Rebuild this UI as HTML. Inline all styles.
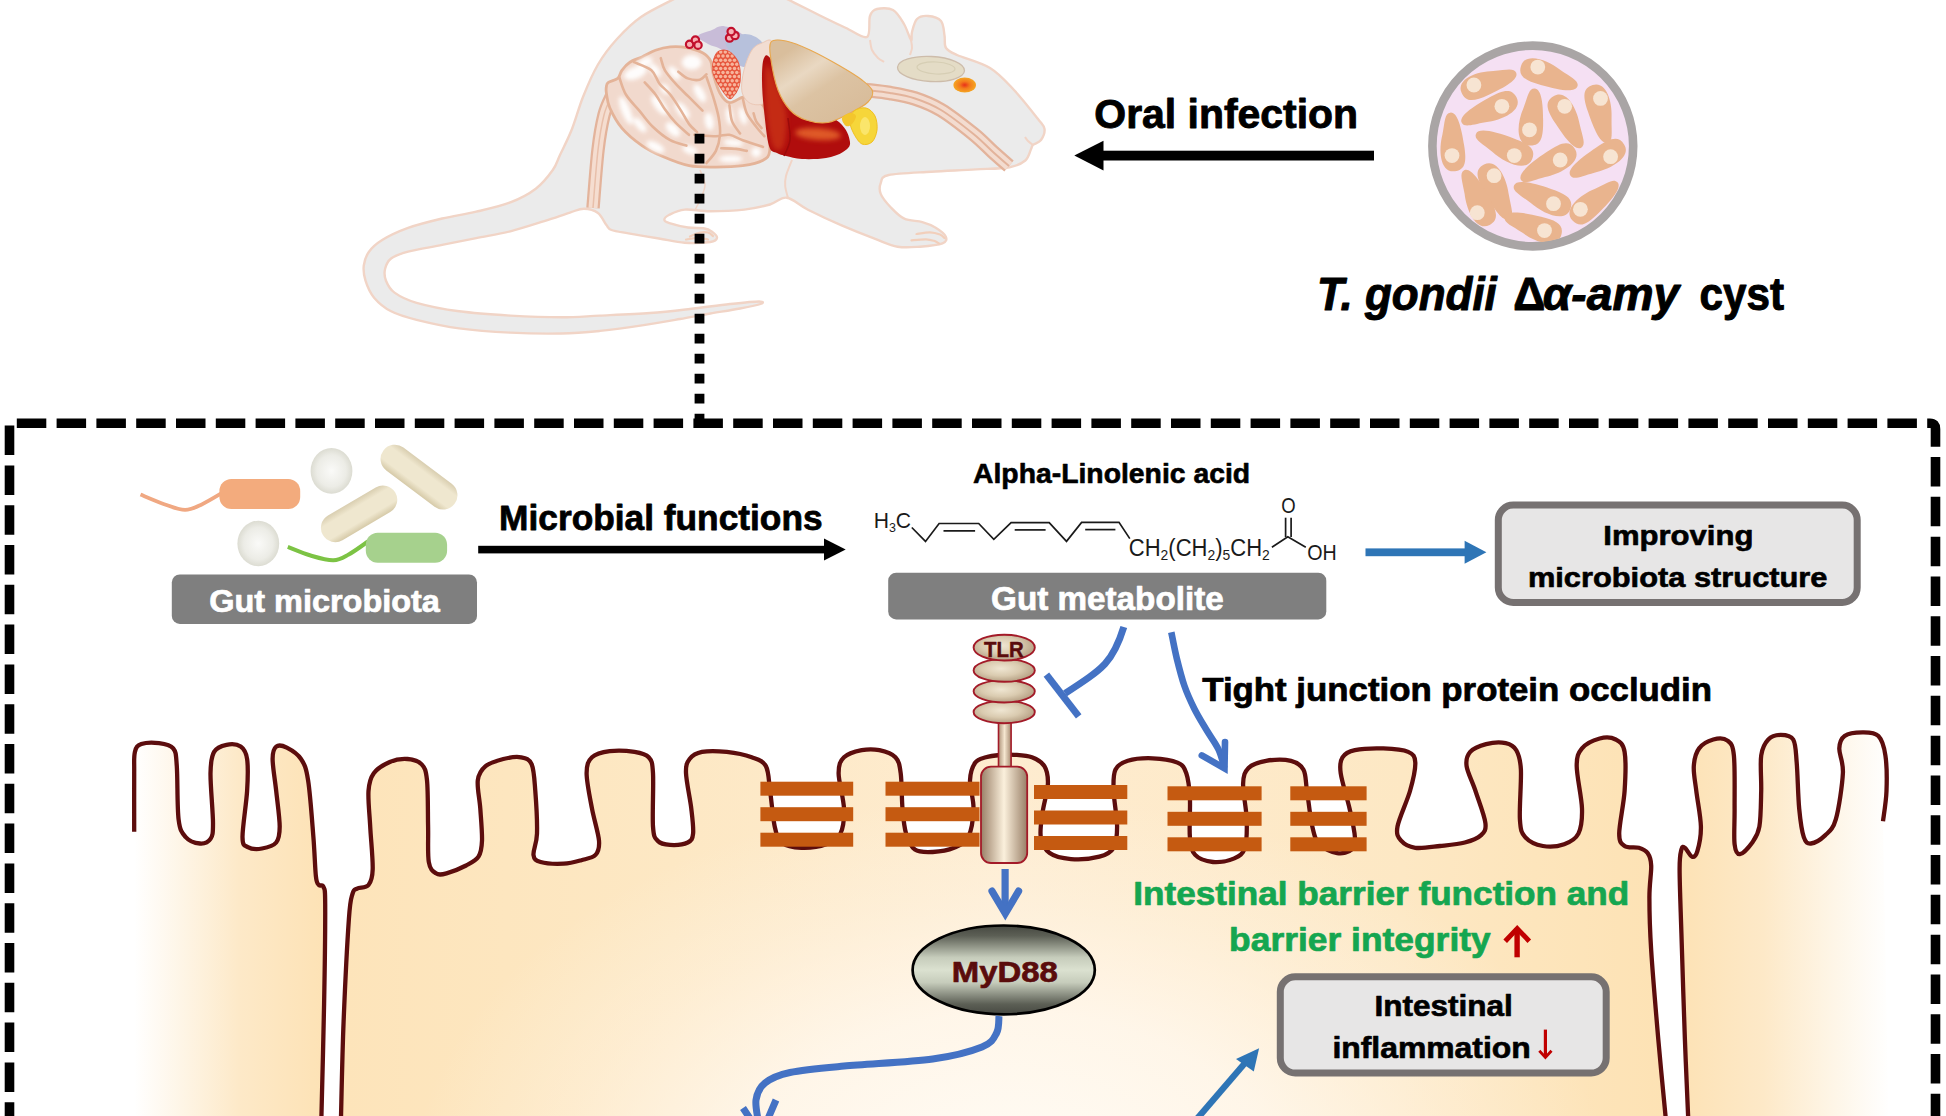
<!DOCTYPE html>
<html><head><meta charset="utf-8"><title>Graphical abstract</title>
<style>
html,body{margin:0;padding:0;background:#fff;}
body{width:1946px;height:1116px;overflow:hidden;font-family:"Liberation Sans",sans-serif;}
svg{display:block;}
svg text{font-family:"Liberation Sans",sans-serif;}
</style></head><body>
<svg width="1946" height="1116" viewBox="0 0 1946 1116">
<defs>
<linearGradient id="gL" x1="134" x2="325" y1="0" y2="0" gradientUnits="userSpaceOnUse">
 <stop offset="0" stop-color="#ffffff"/><stop offset="0.25" stop-color="#fef5e6"/><stop offset="0.55" stop-color="#fde9c8"/><stop offset="1" stop-color="#fde2b5"/></linearGradient>
<linearGradient id="gR" x1="1680" x2="1890" y1="0" y2="0" gradientUnits="userSpaceOnUse">
 <stop offset="0" stop-color="#fde2b5"/><stop offset="0.4" stop-color="#fde9c8"/><stop offset="0.72" stop-color="#fef5e6"/><stop offset="1" stop-color="#ffffff"/></linearGradient>
<linearGradient id="gM" x1="340" x2="1668" y1="0" y2="0" gradientUnits="userSpaceOnUse">
 <stop offset="0" stop-color="#fde4ba"/><stop offset="0.25" stop-color="#fde8c4"/><stop offset="0.5" stop-color="#feecd0"/><stop offset="0.8" stop-color="#fde8c4"/><stop offset="1" stop-color="#fde2b4"/></linearGradient>
<radialGradient id="gMr" cx="1010" cy="1190" r="600" gradientUnits="userSpaceOnUse" gradientTransform="translate(1010 1190) scale(1 0.66) translate(-1010 -1190)">
 <stop offset="0" stop-color="#fffcf6" stop-opacity="1"/><stop offset="0.45" stop-color="#fff8ee" stop-opacity="0.85"/><stop offset="0.75" stop-color="#fff6ea" stop-opacity="0.35"/><stop offset="1" stop-color="#fff6ea" stop-opacity="0"/></radialGradient>
<linearGradient id="gMy" x1="0" x2="0" y1="925" y2="1015" gradientUnits="userSpaceOnUse">
 <stop offset="0" stop-color="#454740"/><stop offset="0.12" stop-color="#5c5f55"/><stop offset="0.36" stop-color="#c6ccbb"/><stop offset="0.5" stop-color="#dbe1d0"/><stop offset="0.64" stop-color="#c6ccbb"/><stop offset="0.88" stop-color="#5c5f55"/><stop offset="1" stop-color="#454740"/></linearGradient>
<linearGradient id="gTm" x1="981" x2="1027" y1="0" y2="0" gradientUnits="userSpaceOnUse">
 <stop offset="0" stop-color="#9a8068"/><stop offset="0.5" stop-color="#fbf0dc"/><stop offset="1" stop-color="#9a8068"/></linearGradient>
<linearGradient id="gSt" x1="998" x2="1011" y1="0" y2="0" gradientUnits="userSpaceOnUse">
 <stop offset="0" stop-color="#a88c72"/><stop offset="0.5" stop-color="#f5e6d0"/><stop offset="1" stop-color="#a88c72"/></linearGradient>
<radialGradient id="gEl" cx="0.45" cy="0.42" r="0.58">
 <stop offset="0" stop-color="#efe6d2"/><stop offset="0.55" stop-color="#dacbb0"/><stop offset="1" stop-color="#b5a084"/></radialGradient>
<radialGradient id="gCo" cx="0.5" cy="0.5" r="0.5">
 <stop offset="0" stop-color="#fafaf8"/><stop offset="0.7" stop-color="#ecece6"/><stop offset="1" stop-color="#dcdcd2"/></radialGradient>
<linearGradient id="gRod" x1="0" x2="0" y1="0" y2="1">
 <stop offset="0" stop-color="#d9ceb0"/><stop offset="0.25" stop-color="#efe7cf"/><stop offset="0.75" stop-color="#efe7cf"/><stop offset="1" stop-color="#d6caa8"/></linearGradient>
<radialGradient id="gEye" cx="0.5" cy="0.5" r="0.5">
 <stop offset="0" stop-color="#e8301a"/><stop offset="0.45" stop-color="#f37a1c"/><stop offset="1" stop-color="#f5a623"/></radialGradient>
<linearGradient id="gSto" x1="790" y1="50" x2="840" y2="125" gradientUnits="userSpaceOnUse">
 <stop offset="0" stop-color="#d9be9c"/><stop offset="0.3" stop-color="#e9d8c2"/><stop offset="0.55" stop-color="#dcc3a3"/><stop offset="1" stop-color="#d8bc9a"/></linearGradient>
<radialGradient id="gLiv" cx="815" cy="133" r="40" gradientUnits="userSpaceOnUse" gradientTransform="translate(815 133) scale(1 0.35) translate(-815 -133)">
 <stop offset="0" stop-color="#e0602a"/><stop offset="1" stop-color="#b00d0d"/></radialGradient>
</defs>
<rect width="1946" height="1116" fill="#fff"/>
<path d="M702.0,-16.0 C694.7,-12.0 686.2,-7.5 676.0,-2.0 C665.8,3.5 650.8,10.2 641.0,17.0 C631.2,23.8 624.2,31.1 617.0,39.0 C609.8,46.9 603.7,54.8 598.0,64.5 C592.3,74.2 587.3,86.2 583.0,97.0 C578.7,107.8 575.8,119.3 572.0,129.0 C568.2,138.7 563.2,148.2 560.0,155.0 C556.8,161.8 556.8,164.4 552.8,170.0 C548.8,175.6 542.9,183.3 535.8,188.7 C528.7,194.1 520.2,198.6 510.3,202.4 C500.4,206.2 487.6,209.0 476.2,211.7 C464.8,214.4 453.5,215.8 442.2,218.5 C430.9,221.2 418.0,224.3 408.1,227.9 C398.2,231.5 389.1,235.8 382.6,239.8 C376.1,243.8 372.1,247.4 369.0,251.7 C365.9,256.0 364.4,260.6 363.8,265.4 C363.2,270.2 363.8,275.3 365.5,280.7 C367.2,286.1 369.8,292.6 374.1,297.7 C378.4,302.8 384.0,307.6 391.1,311.3 C398.2,315.0 405.2,317.0 416.6,319.8 C428.0,322.6 443.6,326.3 459.2,328.4 C474.8,330.5 493.3,331.8 510.3,332.6 C527.3,333.5 546.4,333.8 561.4,333.5 C576.4,333.2 586.6,332.2 600.0,330.9 C613.4,329.5 628.7,327.4 642.0,325.4 C655.3,323.4 668.6,321.0 680.0,319.0 C691.4,317.0 700.3,315.2 710.3,313.5 C720.3,311.8 731.6,310.1 740.0,308.5 C748.4,306.9 757.3,305.2 760.5,304.0 C763.7,302.8 764.1,301.5 759.0,301.5 C753.9,301.5 741.5,302.8 730.0,304.0 C718.5,305.2 703.3,307.5 690.0,309.0 C676.7,310.5 665.0,311.9 650.0,313.0 C635.0,314.1 614.8,314.9 600.0,315.6 C585.2,316.3 576.4,317.3 561.4,317.3 C546.4,317.3 527.3,316.6 510.3,315.6 C493.3,314.6 474.8,313.4 459.2,311.3 C443.6,309.2 427.4,305.9 416.6,302.8 C405.8,299.7 399.6,296.3 394.5,292.6 C389.4,288.9 387.6,284.7 386.0,280.7 C384.4,276.7 384.2,272.5 385.1,268.8 C386.0,265.1 387.3,261.4 391.1,258.5 C394.9,255.7 399.6,254.0 408.1,251.7 C416.6,249.4 430.9,247.2 442.2,244.9 C453.5,242.6 464.8,240.4 476.2,238.1 C487.6,235.8 499.0,234.1 510.3,231.3 C521.6,228.5 534.4,224.2 544.3,221.1 C554.2,218.0 563.3,214.7 569.9,212.6 C576.5,210.5 579.3,208.6 584.0,208.7 C588.7,208.8 594.3,210.3 598.0,213.0 C601.7,215.7 604.1,222.2 606.4,225.0 C608.6,227.8 607.8,228.6 611.5,230.0 C615.2,231.4 620.6,232.0 628.5,233.4 C636.4,234.8 649.6,236.9 659.0,238.5 C668.4,240.1 676.2,242.2 684.7,242.8 C693.2,243.4 704.9,242.8 710.3,242.0 C715.7,241.2 716.7,239.4 717.0,237.7 C717.3,236.0 714.2,233.3 712.0,231.7 C709.8,230.1 707.5,229.0 703.5,228.3 C699.5,227.6 693.7,228.3 688.0,227.5 C682.3,226.7 673.4,224.5 669.4,223.2 C665.4,221.9 664.3,221.2 664.3,219.8 C664.3,218.4 666.0,216.4 669.4,214.7 C672.8,213.0 677.9,210.2 684.7,209.6 C691.5,209.0 700.4,211.3 710.3,211.3 C720.2,211.3 734.4,210.7 744.3,209.6 C754.2,208.5 762.8,206.5 769.9,204.5 C777.0,202.5 780.5,196.8 786.9,197.7 C793.2,198.6 798.9,205.2 808.0,209.8 C817.1,214.4 830.4,220.6 841.6,225.4 C852.8,230.2 865.9,235.4 875.2,238.9 C884.5,242.4 890.1,245.4 897.6,246.7 C905.1,248.0 912.5,247.2 920.0,246.7 C927.5,246.1 938.1,245.1 942.4,243.4 C946.7,241.7 946.9,239.2 945.8,236.6 C944.7,234.0 939.6,230.1 935.7,227.7 C931.8,225.3 927.5,223.6 922.3,222.1 C917.1,220.6 909.5,221.1 904.3,218.7 C899.1,216.3 894.8,211.6 890.9,207.5 C887.0,203.4 882.5,198.2 880.8,194.1 C879.1,190.0 879.5,186.1 880.8,182.9 C882.1,179.7 880.3,176.9 888.7,175.0 C897.1,173.1 916.7,172.6 931.2,171.7 C945.8,170.8 962.9,170.2 976.0,169.4 C989.1,168.7 1001.4,168.7 1009.6,167.2 C1017.8,165.7 1021.7,163.5 1025.3,160.5 C1028.9,157.5 1029.7,151.9 1031.0,149.3 C1032.3,146.7 1031.3,146.6 1033.0,145.0 C1034.7,143.4 1039.1,142.7 1041.0,140.0 C1042.9,137.3 1045.0,132.5 1044.5,129.0 C1044.0,125.5 1043.1,125.5 1038.0,119.0 C1032.9,112.5 1022.0,98.5 1014.0,90.0 C1006.0,81.5 999.5,73.8 990.0,68.0 C980.5,62.2 964.3,58.3 957.0,55.0 C949.7,51.7 948.1,51.2 946.0,48.0 C943.9,44.8 945.3,40.0 944.5,35.5 C943.7,31.0 943.8,24.2 941.0,21.0 C938.2,17.8 932.0,16.3 928.0,16.0 C924.0,15.7 919.7,16.3 917.0,19.0 C914.3,21.7 913.0,28.5 912.0,32.0 C911.0,35.5 912.3,41.3 911.0,40.0 C909.7,38.7 907.0,29.0 904.0,24.0 C901.0,19.0 897.5,12.5 893.0,10.0 C888.5,7.5 880.8,8.0 877.0,9.0 C873.2,10.0 871.7,11.3 870.0,16.0 C868.3,20.7 871.0,35.0 867.0,37.0 C863.0,39.0 852.8,31.1 846.0,28.0 C839.2,24.9 832.7,21.8 826.0,18.5 C819.3,15.2 812.2,11.6 806.0,8.5 C799.8,5.4 794.7,2.9 789.0,0.0 C783.3,-2.9 778.5,-5.3 772.0,-9.0 C765.5,-12.7 758.7,-19.2 750.0,-22.0 C741.3,-24.8 728.0,-27.0 720.0,-26.0 C712.0,-25.0 709.3,-20.0 702.0,-16.0Z" fill="#ebebeb" stroke="#f1d4c6" stroke-width="2.4" stroke-linejoin="round"/>
<path d="M792.0,160.0 C791.0,162.7 787.1,171.7 786.0,176.0 C784.9,180.3 784.9,182.3 785.2,186.0 C785.5,189.7 787.5,196.0 788.0,198.0" fill="none" stroke="#f1d4c6" stroke-width="2"/>
<path d="M870.0,40.0 C870.3,41.7 870.7,47.0 872.0,50.0 C873.3,53.0 876.0,56.0 878.0,58.0 C880.0,60.0 883.0,61.3 884.0,62.0" fill="none" stroke="#f1d4c6" stroke-width="2"/>
<path d="M911.0,40.0 C911.2,41.3 912.2,45.5 912.0,48.0 C911.8,50.5 910.3,53.8 910.0,55.0" fill="none" stroke="#f1d4c6" stroke-width="2"/>
<path d="M1025.0,137.0 C1025.5,137.7 1026.7,139.7 1028.0,141.0 C1029.3,142.3 1032.2,144.3 1033.0,145.0" fill="none" stroke="#f1d4c6" stroke-width="2"/>
<path d="M700.0,170.0 C700.8,172.5 705.0,180.0 705.0,185.0 C705.0,190.0 701.7,195.8 700.0,200.0 C698.3,204.2 695.8,208.3 695.0,210.0" fill="none" stroke="#f1d4c6" stroke-width="1.5"/>
<path d="M916.5,234.0 C918.8,233.7 926.1,232.2 930.0,232.3 C933.9,232.4 937.6,233.6 940.0,234.5 C942.4,235.4 943.8,237.4 944.5,238.0" fill="none" stroke="#f2cfbb" stroke-width="2.2" stroke-linecap="round"/>
<path d="M911.5,240.3 C913.9,240.1 922.2,239.2 926.0,239.3 C929.8,239.4 931.8,240.1 934.0,240.8 C936.2,241.5 938.2,243.1 939.0,243.5" fill="none" stroke="#f2cfbb" stroke-width="2.2" stroke-linecap="round"/>
<path d="M690.0,236.5 C691.7,235.8 697.0,233.3 700.0,232.6 C703.0,231.9 705.8,231.9 708.0,232.5 C710.2,233.1 712.2,235.4 713.0,236.0" fill="none" stroke="#f2cfbb" stroke-width="2.2" stroke-linecap="round"/>
<path d="M686.0,239.5 C688.0,239.2 694.3,238.0 698.0,238.0 C701.7,238.0 706.3,239.2 708.0,239.5" fill="none" stroke="#f2cfbb" stroke-width="2.2" stroke-linecap="round"/>
<path d="M612.0,95.0 C610.7,98.3 606.3,105.8 604.0,115.0 C601.7,124.2 599.8,134.5 598.0,150.0 C596.2,165.5 593.8,198.3 593.0,208.0" fill="none" stroke="#e3b39b" stroke-width="13.5" />
<path d="M612.0,95.0 C610.7,98.3 606.3,105.8 604.0,115.0 C601.7,124.2 599.8,134.5 598.0,150.0 C596.2,165.5 593.8,198.3 593.0,208.0" fill="none" stroke="#f5ddd0" stroke-width="9" />
<path d="M612.0,95.0 C610.7,98.3 606.3,105.8 604.0,115.0 C601.7,124.2 599.8,134.5 598.0,150.0 C596.2,165.5 593.8,198.3 593.0,208.0" fill="none" stroke="#e8bfaa" stroke-width="1.5" />
<path d="M866.0,90.0 C870.0,90.5 881.8,91.6 890.0,93.0 C898.2,94.4 906.5,95.7 915.0,98.5 C923.5,101.3 931.2,104.1 941.0,110.0 C950.8,115.9 964.8,127.0 973.5,134.0 C982.2,141.0 987.1,146.7 993.0,152.0 C998.9,157.3 1006.3,163.7 1009.0,166.0" fill="none" stroke="#e3b39b" stroke-width="14.5"/>
<path d="M866.0,90.0 C870.0,90.5 881.8,91.6 890.0,93.0 C898.2,94.4 906.5,95.7 915.0,98.5 C923.5,101.3 931.2,104.1 941.0,110.0 C950.8,115.9 964.8,127.0 973.5,134.0 C982.2,141.0 987.1,146.7 993.0,152.0 C998.9,157.3 1006.3,163.7 1009.0,166.0" fill="none" stroke="#f3dcd0" stroke-width="10"/>
<path d="M866.0,90.0 C870.0,90.5 881.8,91.6 890.0,93.0 C898.2,94.4 906.5,95.7 915.0,98.5 C923.5,101.3 931.2,104.1 941.0,110.0 C950.8,115.9 964.8,127.0 973.5,134.0 C982.2,141.0 987.1,146.7 993.0,152.0 C998.9,157.3 1006.3,163.7 1009.0,166.0" fill="none" stroke="#e3b39b" stroke-width="2"/>
<path d="M606.4,86.4 C606.7,84.6 606.5,83.7 608.4,82.4 C610.3,81.1 615.5,80.4 617.8,78.4 C620.0,76.4 619.9,73.0 621.9,70.3 C623.9,67.6 626.5,64.4 629.9,62.2 C633.2,60.0 637.7,58.9 642.0,56.9 C646.3,54.9 650.8,51.9 655.5,50.2 C660.2,48.5 665.1,47.2 670.2,46.8 C675.4,46.3 681.0,46.5 686.4,47.5 C691.8,48.5 698.5,50.6 702.5,52.8 C706.5,55.0 708.8,57.3 710.6,60.9 C712.4,64.5 711.7,68.9 713.3,74.3 C714.9,79.7 717.3,88.5 720.0,93.2 C722.7,97.9 725.6,101.9 729.4,102.6 C733.2,103.3 739.4,97.7 742.8,97.2 C746.1,96.8 746.1,98.6 749.5,99.9 C752.9,101.2 759.9,101.0 763.0,105.2 C766.1,109.4 766.9,117.4 768.0,125.0 C769.1,132.6 770.5,145.0 769.7,150.9 C768.9,156.8 767.5,157.8 763.0,160.3 C758.5,162.8 750.6,164.6 742.8,165.7 C734.9,166.8 724.8,167.1 715.9,167.1 C707.0,167.1 698.0,167.5 689.1,165.7 C680.2,163.9 670.1,159.7 662.2,156.3 C654.4,153.0 648.7,150.3 642.0,145.6 C635.3,140.9 627.3,134.4 621.9,128.1 C616.5,121.8 612.4,113.7 609.8,107.9 C607.2,102.1 607.0,96.8 606.4,93.2 C605.8,89.6 606.1,88.2 606.4,86.4Z" fill="#f1d9cd" stroke="#e4b398" stroke-width="2.8"/>
<filter id="bl" x="-50%" y="-50%" width="200%" height="200%"><feGaussianBlur stdDeviation="2.2"/></filter>
<g filter="url(#bl)" opacity="0.95">
<ellipse cx="635.3" cy="73" rx="12" ry="6" transform="rotate(-20 635.3 73)" fill="#ffffff"/>
<ellipse cx="625.9" cy="110.6" rx="4.5" ry="15" transform="rotate(-22 625.9 110.6)" fill="#ffffff"/>
<ellipse cx="664.9" cy="89.1" rx="4" ry="6" transform="rotate(-35 664.9 89.1)" fill="#ffffff"/>
<ellipse cx="659.5" cy="105.2" rx="5" ry="12" transform="rotate(-38 659.5 105.2)" fill="#ffffff"/>
<ellipse cx="682.3" cy="110.6" rx="5" ry="10" transform="rotate(-38 682.3 110.6)" fill="#ffffff"/>
<ellipse cx="672.9" cy="129.4" rx="5" ry="9" transform="rotate(-45 672.9 129.4)" fill="#ffffff"/>
<ellipse cx="655.5" cy="146.9" rx="10" ry="4.5" transform="rotate(28 655.5 146.9)" fill="#ffffff"/>
<ellipse cx="691.7" cy="62.2" rx="10" ry="7.5" transform="rotate(0 691.7 62.2)" fill="#ffffff"/>
<ellipse cx="674.3" cy="73" rx="4" ry="8" transform="rotate(-40 674.3 73)" fill="#ffffff"/>
<ellipse cx="699.8" cy="93.2" rx="4.5" ry="10" transform="rotate(-30 699.8 93.2)" fill="#ffffff"/>
<ellipse cx="709.2" cy="121.4" rx="4.5" ry="9" transform="rotate(-10 709.2 121.4)" fill="#ffffff"/>
<ellipse cx="729.4" cy="116" rx="3.5" ry="9" transform="rotate(-8 729.4 116)" fill="#ffffff"/>
<ellipse cx="742.8" cy="116" rx="3.5" ry="9" transform="rotate(-15 742.8 116)" fill="#ffffff"/>
<ellipse cx="733.4" cy="142.9" rx="10" ry="3.5" transform="rotate(5 733.4 142.9)" fill="#ffffff"/>
<ellipse cx="730.7" cy="159" rx="12" ry="3.5" transform="rotate(0 730.7 159)" fill="#ffffff"/>
<ellipse cx="756.2" cy="152.3" rx="5" ry="5" transform="rotate(0 756.2 152.3)" fill="#ffffff"/>
<ellipse cx="645" cy="62" rx="8" ry="4" transform="rotate(-25 645 62)" fill="#ffffff"/>
<ellipse cx="640" cy="125" rx="4" ry="9" transform="rotate(-40 640 125)" fill="#ffffff"/>
<ellipse cx="690" cy="150" rx="8" ry="4" transform="rotate(20 690 150)" fill="#ffffff"/>
<ellipse cx="655" cy="70" rx="4" ry="8" transform="rotate(-40 655 70)" fill="#ffffff"/>
</g>
<path d="M619.2,77.0 C620.3,79.9 622.5,88.9 625.9,94.5 C629.2,100.1 634.8,105.2 639.3,110.6 C643.8,116.0 647.6,121.8 652.8,126.7 C657.9,131.6 664.6,137.0 670.2,140.2 C675.8,143.3 683.7,144.7 686.4,145.6" fill="none" stroke="#e4b398" stroke-width="2.6" stroke-linecap="round"/>
<path d="M634.0,62.2 C636.9,63.6 647.1,66.7 651.4,70.3 C655.6,73.9 656.4,79.7 659.5,83.7 C662.6,87.7 666.6,90.0 670.2,94.5 C673.8,99.0 677.9,105.7 681.0,110.6 C684.1,115.5 686.4,120.5 689.1,124.1 C691.8,127.7 695.8,130.8 697.1,132.1" fill="none" stroke="#e4b398" stroke-width="2.6" stroke-linecap="round"/>
<path d="M644.7,82.4 C646.5,84.4 652.1,90.0 655.5,94.5 C658.9,99.0 661.5,104.6 664.9,109.3 C668.2,114.0 671.6,118.5 675.6,122.7 C679.6,127.0 686.8,132.8 689.0,134.8" fill="none" stroke="#e4b398" stroke-width="2.6" stroke-linecap="round"/>
<path d="M660.8,58.2 C661.5,60.2 662.4,66.0 664.9,70.3 C667.4,74.5 671.6,79.2 675.6,83.7 C679.6,88.2 684.6,92.7 689.1,97.2 C693.6,101.7 700.3,108.4 702.5,110.6" fill="none" stroke="#e4b398" stroke-width="2.6" stroke-linecap="round"/>
<path d="M678.3,71.7 C679.9,72.8 684.1,77.1 687.7,78.4 C691.3,79.7 696.7,80.4 699.8,79.7 C702.9,79.0 705.4,75.2 706.5,74.3" fill="none" stroke="#e4b398" stroke-width="2.6" stroke-linecap="round"/>
<path d="M706.5,77.0 C707.6,80.4 711.3,90.5 713.3,97.2 C715.3,103.9 717.5,111.0 718.6,117.3 C719.7,123.6 720.5,129.2 720.0,134.8 C719.5,140.4 718.1,146.2 715.9,150.9 C713.6,155.6 708.1,161.0 706.5,163.0" fill="none" stroke="#e4b398" stroke-width="2.6" stroke-linecap="round"/>
<path d="M694.4,134.8 C698.0,135.0 710.1,136.2 715.9,136.2 C721.7,136.2 724.9,134.1 729.4,134.8 C733.9,135.5 737.2,138.2 742.8,140.2 C748.4,142.2 759.6,145.8 763.0,146.9" fill="none" stroke="#e4b398" stroke-width="2.6" stroke-linecap="round"/>
<path d="M721.3,148.3 C723.8,148.4 731.9,148.5 736.1,148.9 C740.4,149.3 745.0,150.6 746.8,150.9" fill="none" stroke="#e4b398" stroke-width="2.6" stroke-linecap="round"/>
<path d="M729.4,105.2 C729.9,107.9 730.3,116.7 732.1,121.4 C733.9,126.1 738.8,131.5 740.1,133.5" fill="none" stroke="#e4b398" stroke-width="2.6" stroke-linecap="round"/>
<path d="M742.8,98.5 C743.5,101.0 744.6,108.6 746.8,113.3 C749.0,118.0 753.3,122.9 756.2,126.7 C759.1,130.5 762.9,134.6 764.3,136.2" fill="none" stroke="#e4b398" stroke-width="2.6" stroke-linecap="round"/>
<path d="M753.6,113.3 C754.0,114.7 754.9,118.9 756.2,121.4 C757.5,123.9 760.7,127.0 761.6,128.1" fill="none" stroke="#e4b398" stroke-width="2.6" stroke-linecap="round"/>
<path d="M698.0,36.0 C698.7,33.7 708.0,31.7 712.0,30.0 C716.0,28.3 718.0,26.0 722.0,26.0 C726.0,26.0 732.2,28.3 736.0,30.0 C739.8,31.7 741.3,34.3 745.0,36.0 C748.7,37.7 755.2,37.7 758.0,40.0 C760.8,42.3 763.0,46.0 762.0,50.0 C761.0,54.0 755.7,61.3 752.0,64.0 C748.3,66.7 745.0,68.3 740.0,66.0 C735.0,63.7 727.3,53.7 722.0,50.0 C716.7,46.3 712.0,46.3 708.0,44.0 C704.0,41.7 697.3,38.3 698.0,36.0Z" fill="#c8bcd8"/>
<path d="M726.0,40.0 C728.5,37.0 739.3,34.0 745.0,34.0 C750.7,34.0 756.8,37.0 760.0,40.0 C763.2,43.0 765.0,47.7 764.0,52.0 C763.0,56.3 757.7,63.7 754.0,66.0 C750.3,68.3 746.0,68.3 742.0,66.0 C738.0,63.7 732.7,56.3 730.0,52.0 C727.3,47.7 723.5,43.0 726.0,40.0Z" fill="#b7c1dc"/>
<path d="M752.0,50.0 C755.0,45.5 758.7,44.3 762.0,43.0 C765.3,41.7 770.3,37.5 772.0,42.0 C773.7,46.5 772.7,60.3 772.0,70.0 C771.3,79.7 771.3,94.3 768.0,100.0 C764.7,105.7 756.3,105.3 752.0,104.0 C747.7,102.7 743.3,97.7 742.0,92.0 C740.7,86.3 742.3,77.0 744.0,70.0 C745.7,63.0 749.0,54.5 752.0,50.0Z" fill="#f2ddd2" stroke="#ecc8b6" stroke-width="1"/>
<path d="M764.0,58.0 C765.7,54.7 766.0,53.0 772.0,60.0 C778.0,67.0 788.8,89.7 800.0,100.0 C811.2,110.3 830.7,115.0 839.0,122.0 C847.3,129.0 849.3,137.0 850.0,142.0 C850.7,147.0 847.0,149.3 843.0,152.0 C839.0,154.7 832.8,156.8 826.0,158.0 C819.2,159.2 808.7,159.3 802.0,159.0 C795.3,158.7 790.2,157.0 786.0,156.0 C781.8,155.0 779.8,154.7 777.0,153.0 C774.2,151.3 771.2,153.2 769.0,146.0 C766.8,138.8 765.2,121.0 764.0,110.0 C762.8,99.0 762.0,88.7 762.0,80.0 C762.0,71.3 762.3,61.3 764.0,58.0Z" fill="#b00d0d"/>
<path d="M766.0,66.0 C767.7,61.3 772.7,74.3 776.0,82.0 C779.3,89.7 784.5,102.3 786.0,112.0 C787.5,121.7 786.0,133.7 785.0,140.0 C784.0,146.3 782.2,149.3 780.0,150.0 C777.8,150.7 774.3,150.7 772.0,144.0 C769.7,137.3 767.0,123.0 766.0,110.0 C765.0,97.0 764.3,70.7 766.0,66.0Z" fill="#d84a1e" opacity="0.5" filter="url(#bl2)"/>
<filter id="bl2" x="-50%" y="-50%" width="200%" height="200%"><feGaussianBlur stdDeviation="2.5"/></filter>
<path d="M788.0,118.0 C788.3,121.7 790.7,133.7 790.0,140.0 C789.3,146.3 785.0,153.3 784.0,156.0" fill="none" stroke="#9a0a0a" stroke-width="1.5"/>
<ellipse cx="818" cy="134" rx="23" ry="6" transform="rotate(4 818 134)" fill="#e4622a" opacity="0.9" filter="url(#bl2)"/>
<path d="M771.0,42.0 C773.5,38.8 779.5,39.7 786.0,41.0 C792.5,42.3 801.0,45.8 810.0,50.0 C819.0,54.2 831.3,61.0 840.0,66.0 C848.7,71.0 856.6,75.8 862.0,80.0 C867.4,84.2 871.5,87.3 872.5,91.0 C873.5,94.7 871.4,98.5 868.0,102.0 C864.6,105.5 858.7,108.6 852.0,112.0 C845.3,115.4 835.7,121.2 828.0,122.5 C820.3,123.8 812.3,122.1 806.0,120.0 C799.7,117.9 794.7,115.0 790.0,110.0 C785.3,105.0 781.2,98.3 778.0,90.0 C774.8,81.7 772.2,68.0 771.0,60.0 C769.8,52.0 768.5,45.2 771.0,42.0Z" fill="url(#gSto)" stroke="#e8a850" stroke-width="1.2"/>
<path d="M854.0,111.0 C856.7,108.7 862.5,107.2 866.0,108.0 C869.5,108.8 873.2,112.3 875.0,116.0 C876.8,119.7 877.5,125.7 877.0,130.0 C876.5,134.3 874.5,139.7 872.0,142.0 C869.5,144.3 865.0,145.3 862.0,144.0 C859.0,142.7 856.0,137.7 854.0,134.0 C852.0,130.3 850.0,125.8 850.0,122.0 C850.0,118.2 851.3,113.3 854.0,111.0Z" fill="#f6d63a" stroke="#f0c020" stroke-width="1"/>
<path d="M842.0,118.0 C842.7,115.8 847.7,113.3 850.0,113.0 C852.3,112.7 855.7,114.2 856.0,116.0 C856.3,117.8 853.7,122.3 852.0,124.0 C850.3,125.7 847.7,127.0 846.0,126.0 C844.3,125.0 841.3,120.2 842.0,118.0Z" fill="#f3c62c"/>
<ellipse cx="865" cy="126" rx="5" ry="9" fill="#fbe878" opacity="0.8"/>
<clipPath id="spc"><path d="M717.3,52.8 C719.1,50.8 721.8,50.2 724.0,50.2 C726.2,50.2 728.5,51.0 730.7,52.8 C732.9,54.6 735.8,57.3 737.4,60.9 C739.0,64.5 739.9,70.0 740.1,74.3 C740.3,78.5 740.1,82.6 738.8,86.4 C737.5,90.2 733.9,95.4 732.1,97.2 C730.3,99.0 730.0,99.0 728.0,97.2 C726.0,95.4 722.5,90.4 720.0,86.4 C717.5,82.4 714.4,77.0 713.3,73.0 C712.2,69.0 712.6,65.6 713.3,62.2 C714.0,58.8 715.5,54.8 717.3,52.8Z"/></clipPath>
<path d="M717.3,52.8 C719.1,50.8 721.8,50.2 724.0,50.2 C726.2,50.2 728.5,51.0 730.7,52.8 C732.9,54.6 735.8,57.3 737.4,60.9 C739.0,64.5 739.9,70.0 740.1,74.3 C740.3,78.5 740.1,82.6 738.8,86.4 C737.5,90.2 733.9,95.4 732.1,97.2 C730.3,99.0 730.0,99.0 728.0,97.2 C726.0,95.4 722.5,90.4 720.0,86.4 C717.5,82.4 714.4,77.0 713.3,73.0 C712.2,69.0 712.6,65.6 713.3,62.2 C714.0,58.8 715.5,54.8 717.3,52.8Z" fill="#e6553c" stroke="#e6553c" stroke-width="1.5"/>
<g clip-path="url(#spc)">
<circle cx="711.5" cy="52.0" r="1.75" fill="#f7b49c"/>
<circle cx="716.1" cy="52.0" r="1.75" fill="#f7b49c"/>
<circle cx="720.7" cy="52.0" r="1.75" fill="#f7b49c"/>
<circle cx="725.3" cy="52.0" r="1.75" fill="#f7b49c"/>
<circle cx="729.9" cy="52.0" r="1.75" fill="#f7b49c"/>
<circle cx="734.5" cy="52.0" r="1.75" fill="#f7b49c"/>
<circle cx="739.1" cy="52.0" r="1.75" fill="#f7b49c"/>
<circle cx="743.7" cy="52.0" r="1.75" fill="#f7b49c"/>
<circle cx="713.8" cy="56.1" r="1.75" fill="#f7b49c"/>
<circle cx="718.4" cy="56.1" r="1.75" fill="#f7b49c"/>
<circle cx="723.0" cy="56.1" r="1.75" fill="#f7b49c"/>
<circle cx="727.6" cy="56.1" r="1.75" fill="#f7b49c"/>
<circle cx="732.2" cy="56.1" r="1.75" fill="#f7b49c"/>
<circle cx="736.8" cy="56.1" r="1.75" fill="#f7b49c"/>
<circle cx="741.4" cy="56.1" r="1.75" fill="#f7b49c"/>
<circle cx="746.0" cy="56.1" r="1.75" fill="#f7b49c"/>
<circle cx="711.5" cy="60.2" r="1.75" fill="#f7b49c"/>
<circle cx="716.1" cy="60.2" r="1.75" fill="#f7b49c"/>
<circle cx="720.7" cy="60.2" r="1.75" fill="#f7b49c"/>
<circle cx="725.3" cy="60.2" r="1.75" fill="#f7b49c"/>
<circle cx="729.9" cy="60.2" r="1.75" fill="#f7b49c"/>
<circle cx="734.5" cy="60.2" r="1.75" fill="#f7b49c"/>
<circle cx="739.1" cy="60.2" r="1.75" fill="#f7b49c"/>
<circle cx="743.7" cy="60.2" r="1.75" fill="#f7b49c"/>
<circle cx="713.8" cy="64.3" r="1.75" fill="#f7b49c"/>
<circle cx="718.4" cy="64.3" r="1.75" fill="#f7b49c"/>
<circle cx="723.0" cy="64.3" r="1.75" fill="#f7b49c"/>
<circle cx="727.6" cy="64.3" r="1.75" fill="#f7b49c"/>
<circle cx="732.2" cy="64.3" r="1.75" fill="#f7b49c"/>
<circle cx="736.8" cy="64.3" r="1.75" fill="#f7b49c"/>
<circle cx="741.4" cy="64.3" r="1.75" fill="#f7b49c"/>
<circle cx="746.0" cy="64.3" r="1.75" fill="#f7b49c"/>
<circle cx="711.5" cy="68.4" r="1.75" fill="#f7b49c"/>
<circle cx="716.1" cy="68.4" r="1.75" fill="#f7b49c"/>
<circle cx="720.7" cy="68.4" r="1.75" fill="#f7b49c"/>
<circle cx="725.3" cy="68.4" r="1.75" fill="#f7b49c"/>
<circle cx="729.9" cy="68.4" r="1.75" fill="#f7b49c"/>
<circle cx="734.5" cy="68.4" r="1.75" fill="#f7b49c"/>
<circle cx="739.1" cy="68.4" r="1.75" fill="#f7b49c"/>
<circle cx="743.7" cy="68.4" r="1.75" fill="#f7b49c"/>
<circle cx="713.8" cy="72.5" r="1.75" fill="#f7b49c"/>
<circle cx="718.4" cy="72.5" r="1.75" fill="#f7b49c"/>
<circle cx="723.0" cy="72.5" r="1.75" fill="#f7b49c"/>
<circle cx="727.6" cy="72.5" r="1.75" fill="#f7b49c"/>
<circle cx="732.2" cy="72.5" r="1.75" fill="#f7b49c"/>
<circle cx="736.8" cy="72.5" r="1.75" fill="#f7b49c"/>
<circle cx="741.4" cy="72.5" r="1.75" fill="#f7b49c"/>
<circle cx="746.0" cy="72.5" r="1.75" fill="#f7b49c"/>
<circle cx="711.5" cy="76.6" r="1.75" fill="#f7b49c"/>
<circle cx="716.1" cy="76.6" r="1.75" fill="#f7b49c"/>
<circle cx="720.7" cy="76.6" r="1.75" fill="#f7b49c"/>
<circle cx="725.3" cy="76.6" r="1.75" fill="#f7b49c"/>
<circle cx="729.9" cy="76.6" r="1.75" fill="#f7b49c"/>
<circle cx="734.5" cy="76.6" r="1.75" fill="#f7b49c"/>
<circle cx="739.1" cy="76.6" r="1.75" fill="#f7b49c"/>
<circle cx="743.7" cy="76.6" r="1.75" fill="#f7b49c"/>
<circle cx="713.8" cy="80.7" r="1.75" fill="#f7b49c"/>
<circle cx="718.4" cy="80.7" r="1.75" fill="#f7b49c"/>
<circle cx="723.0" cy="80.7" r="1.75" fill="#f7b49c"/>
<circle cx="727.6" cy="80.7" r="1.75" fill="#f7b49c"/>
<circle cx="732.2" cy="80.7" r="1.75" fill="#f7b49c"/>
<circle cx="736.8" cy="80.7" r="1.75" fill="#f7b49c"/>
<circle cx="741.4" cy="80.7" r="1.75" fill="#f7b49c"/>
<circle cx="746.0" cy="80.7" r="1.75" fill="#f7b49c"/>
<circle cx="711.5" cy="84.8" r="1.75" fill="#f7b49c"/>
<circle cx="716.1" cy="84.8" r="1.75" fill="#f7b49c"/>
<circle cx="720.7" cy="84.8" r="1.75" fill="#f7b49c"/>
<circle cx="725.3" cy="84.8" r="1.75" fill="#f7b49c"/>
<circle cx="729.9" cy="84.8" r="1.75" fill="#f7b49c"/>
<circle cx="734.5" cy="84.8" r="1.75" fill="#f7b49c"/>
<circle cx="739.1" cy="84.8" r="1.75" fill="#f7b49c"/>
<circle cx="743.7" cy="84.8" r="1.75" fill="#f7b49c"/>
<circle cx="713.8" cy="88.9" r="1.75" fill="#f7b49c"/>
<circle cx="718.4" cy="88.9" r="1.75" fill="#f7b49c"/>
<circle cx="723.0" cy="88.9" r="1.75" fill="#f7b49c"/>
<circle cx="727.6" cy="88.9" r="1.75" fill="#f7b49c"/>
<circle cx="732.2" cy="88.9" r="1.75" fill="#f7b49c"/>
<circle cx="736.8" cy="88.9" r="1.75" fill="#f7b49c"/>
<circle cx="741.4" cy="88.9" r="1.75" fill="#f7b49c"/>
<circle cx="746.0" cy="88.9" r="1.75" fill="#f7b49c"/>
<circle cx="711.5" cy="93.0" r="1.75" fill="#f7b49c"/>
<circle cx="716.1" cy="93.0" r="1.75" fill="#f7b49c"/>
<circle cx="720.7" cy="93.0" r="1.75" fill="#f7b49c"/>
<circle cx="725.3" cy="93.0" r="1.75" fill="#f7b49c"/>
<circle cx="729.9" cy="93.0" r="1.75" fill="#f7b49c"/>
<circle cx="734.5" cy="93.0" r="1.75" fill="#f7b49c"/>
<circle cx="739.1" cy="93.0" r="1.75" fill="#f7b49c"/>
<circle cx="743.7" cy="93.0" r="1.75" fill="#f7b49c"/>
<circle cx="713.8" cy="97.1" r="1.75" fill="#f7b49c"/>
<circle cx="718.4" cy="97.1" r="1.75" fill="#f7b49c"/>
<circle cx="723.0" cy="97.1" r="1.75" fill="#f7b49c"/>
<circle cx="727.6" cy="97.1" r="1.75" fill="#f7b49c"/>
<circle cx="732.2" cy="97.1" r="1.75" fill="#f7b49c"/>
<circle cx="736.8" cy="97.1" r="1.75" fill="#f7b49c"/>
<circle cx="741.4" cy="97.1" r="1.75" fill="#f7b49c"/>
<circle cx="746.0" cy="97.1" r="1.75" fill="#f7b49c"/>
</g>
<circle cx="689.6" cy="44.3" r="3.7" fill="#f7b0b4" stroke="#c2102c" stroke-width="2.2"/>
<circle cx="695.4" cy="40.1" r="3.7" fill="#f7b0b4" stroke="#c2102c" stroke-width="2.2"/>
<circle cx="698" cy="45.2" r="3.7" fill="#f7b0b4" stroke="#c2102c" stroke-width="2.2"/>
<circle cx="729.6" cy="38" r="3.7" fill="#f7b0b4" stroke="#c2102c" stroke-width="2.2"/>
<circle cx="735" cy="35.5" r="3.7" fill="#f7b0b4" stroke="#c2102c" stroke-width="2.2"/>
<circle cx="731.2" cy="31.6" r="3.7" fill="#f7b0b4" stroke="#c2102c" stroke-width="2.2"/>
<ellipse cx="931" cy="69" rx="33.5" ry="12.5" transform="rotate(3 931 69)" fill="#e4dcc6" stroke="#cdbcaa" stroke-width="1.3"/>
<ellipse cx="936" cy="68" rx="19" ry="6" transform="rotate(3 936 68)" fill="none" stroke="#d6ceb4" stroke-width="1.2"/>
<ellipse cx="964.7" cy="85" rx="11.3" ry="7.6" fill="url(#gEye)"/>
<line x1="699.5" y1="133.8" x2="699.5" y2="424" stroke="#000" stroke-width="9.8" stroke-dasharray="9.7 10.3"/>
<text x="1094.3" y="127.7" font-size="40.5" font-weight="bold" font-style="normal" fill="#000" text-anchor="start" textLength="263.8" lengthAdjust="spacingAndGlyphs" stroke="#000" stroke-width="0.89" stroke-linejoin="round">Oral infection</text>
<rect x="1100" y="150.7" width="274" height="9.8" fill="#000"/>
<polygon points="1074.3,155.6 1103.5,140.8 1103.5,170.4" fill="#000"/>
<circle cx="1532.8" cy="146" r="100.4" fill="#f5e0f3" stroke="#a9a5a5" stroke-width="8.6"/>
<clipPath id="cc"><circle cx="1532.8" cy="146" r="96.3"/></clipPath>
<g clip-path="url(#cc)">
<path d="M0,0 C0,-15.1 22.8,-13.9 37.6,-8.1 C50.1,-4.1 58.1,-3.5 58.1,2.3 C58.1,9.3 42.7,11.6 23.9,12.2 C8.5,12.8 0,11.0 0,0Z" transform="translate(1461.6 92.8) rotate(-22.4)" fill="#e9b48e"/>
<path d="M0,0 C0,-15.1 23.5,-13.9 38.8,-8.1 C51.8,-4.1 60.0,-3.5 60.0,2.3 C60.0,9.3 44.1,11.6 24.7,12.2 C8.8,12.8 0,11.0 0,0Z" transform="translate(1521.0 65.9) rotate(17.7)" fill="#e9b48e"/>
<path d="M0,0 C0,-15.1 23.6,-13.9 39.0,-8.1 C52.0,-4.1 60.3,-3.5 60.3,2.3 C60.3,9.3 44.3,11.6 24.8,12.2 C8.9,12.8 0,11.0 0,0Z" transform="translate(1516.5 97.3) rotate(152.9)" fill="#e9b48e"/>
<path d="M0,0 C0,-15.1 22.4,-13.9 37.0,-8.1 C49.3,-4.1 57.2,-3.5 57.2,2.3 C57.2,9.3 42.0,11.6 23.5,12.2 C8.4,12.8 0,11.0 0,0Z" transform="translate(1530.0 145.5) rotate(-87.7)" fill="#e9b48e"/>
<path d="M0,0 C0,-15.1 22.9,-13.9 37.8,-8.1 C50.4,-4.1 58.4,-3.5 58.4,2.3 C58.4,9.3 42.9,11.6 24.0,12.2 C8.6,12.8 0,11.0 0,0Z" transform="translate(1553.5 96.2) rotate(59.4)" fill="#e9b48e"/>
<path d="M0,0 C0,-15.1 23.4,-13.9 38.6,-8.1 C51.5,-4.1 59.7,-3.5 59.7,2.3 C59.7,9.3 43.9,11.6 24.6,12.2 C8.8,12.8 0,11.0 0,0Z" transform="translate(1592.7 85.0) rotate(73.3)" fill="#e9b48e"/>
<path d="M0,0 C0,-15.1 23.0,-13.9 38.0,-8.1 C50.6,-4.1 58.7,-3.5 58.7,2.3 C58.7,9.3 43.1,11.6 24.2,12.2 C8.6,12.8 0,11.0 0,0Z" transform="translate(1454.9 171.2) rotate(-96.7)" fill="#e9b48e"/>
<path d="M0,0 C0,-15.1 24.1,-13.9 39.8,-8.1 C53.1,-4.1 61.5,-3.5 61.5,2.3 C61.5,9.3 45.2,11.6 25.3,12.2 C9.0,12.8 0,11.0 0,0Z" transform="translate(1532.2 158.9) rotate(-158.2)" fill="#e9b48e"/>
<path d="M0,0 C0,-15.1 24.4,-13.9 40.2,-8.1 C53.6,-4.1 62.1,-3.5 62.1,2.3 C62.1,9.3 45.7,11.6 25.6,12.2 C9.1,12.8 0,11.0 0,0Z" transform="translate(1574.8 148.8) rotate(147.8)" fill="#e9b48e"/>
<path d="M0,0 C0,-15.1 24.4,-13.9 40.2,-8.1 C53.6,-4.1 62.1,-3.5 62.1,2.3 C62.1,9.3 45.7,11.6 25.6,12.2 C9.1,12.8 0,11.0 0,0Z" transform="translate(1624.1 144.4) rotate(147.8)" fill="#e9b48e"/>
<path d="M0,0 C0,-15.1 23.6,-13.9 39.0,-8.1 C52.0,-4.1 60.3,-3.5 60.3,2.3 C60.3,9.3 44.3,11.6 24.8,12.2 C8.9,12.8 0,11.0 0,0Z" transform="translate(1484.0 164.5) rotate(62.9)" fill="#e9b48e"/>
<path d="M0,0 C0,-15.1 23.6,-13.9 39.0,-8.1 C52.0,-4.1 60.3,-3.5 60.3,2.3 C60.3,9.3 44.3,11.6 24.8,12.2 C8.9,12.8 0,11.0 0,0Z" transform="translate(1489.6 225.0) rotate(-117.1)" fill="#e9b48e"/>
<path d="M0,0 C0,-15.1 24.0,-13.9 39.5,-8.1 C52.7,-4.1 61.1,-3.5 61.1,2.3 C61.1,9.3 44.9,11.6 25.2,12.2 C9.0,12.8 0,11.0 0,0Z" transform="translate(1570.3 209.3) rotate(-159.2)" fill="#e9b48e"/>
<path d="M0,0 C0,-15.1 23.2,-13.9 38.2,-8.1 C50.9,-4.1 59.0,-3.5 59.0,2.3 C59.0,9.3 43.4,11.6 24.3,12.2 C8.7,12.8 0,11.0 0,0Z" transform="translate(1572.5 220.5) rotate(-42.6)" fill="#e9b48e"/>
<path d="M0,0 C0,-15.1 23.3,-13.9 38.4,-8.1 C51.2,-4.1 59.3,-3.5 59.3,2.3 C59.3,9.3 43.6,11.6 24.4,12.2 C8.7,12.8 0,11.0 0,0Z" transform="translate(1561.3 235.1) rotate(-164.4)" fill="#e9b48e"/>
<circle cx="1473.9" cy="85.0" r="7.4" fill="#f7e4d2"/>
<circle cx="1537.8" cy="67.1" r="7.4" fill="#f7e4d2"/>
<circle cx="1501.9" cy="106.3" r="7.4" fill="#f7e4d2"/>
<circle cx="1529.5" cy="129.8" r="7.4" fill="#f7e4d2"/>
<circle cx="1564.7" cy="106.3" r="7.4" fill="#f7e4d2"/>
<circle cx="1600.5" cy="98.4" r="7.4" fill="#f7e4d2"/>
<circle cx="1452.0" cy="155.6" r="7.4" fill="#f7e4d2"/>
<circle cx="1514.3" cy="155.6" r="7.4" fill="#f7e4d2"/>
<circle cx="1560.2" cy="160.0" r="7.4" fill="#f7e4d2"/>
<circle cx="1610.6" cy="156.7" r="7.4" fill="#f7e4d2"/>
<circle cx="1494.1" cy="175.7" r="7.4" fill="#f7e4d2"/>
<circle cx="1477.3" cy="212.7" r="7.4" fill="#f7e4d2"/>
<circle cx="1553.5" cy="203.7" r="7.4" fill="#f7e4d2"/>
<circle cx="1580.4" cy="209.3" r="7.4" fill="#f7e4d2"/>
<circle cx="1544.5" cy="230.6" r="7.4" fill="#f7e4d2"/>
</g>
<text x="1317.0" y="310.4" font-size="45.7" font-weight="bold" font-style="italic" fill="#000" text-anchor="start" textLength="179.8" lengthAdjust="spacingAndGlyphs" stroke="#000" stroke-width="1.01" stroke-linejoin="round">T. gondii</text>
<text x="1513.2" y="310.4" font-size="45.7" font-weight="bold" font-style="normal" fill="#000" text-anchor="start" textLength="32.0" lengthAdjust="spacingAndGlyphs" stroke="#000" stroke-width="1.01" stroke-linejoin="round">Δ</text>
<text x="1542.7" y="310.4" font-size="45.7" font-weight="bold" font-style="italic" fill="#000" text-anchor="start" textLength="136.5" lengthAdjust="spacingAndGlyphs" stroke="#000" stroke-width="1.01" stroke-linejoin="round">α-amy</text>
<text x="1699.5" y="310.4" font-size="45.7" font-weight="bold" font-style="normal" fill="#000" text-anchor="start" textLength="84.5" lengthAdjust="spacingAndGlyphs" stroke="#000" stroke-width="1.01" stroke-linejoin="round">cyst</text>
<path d="M16.8,423.2 H1930 Q1935.5,423.2 1935.5,429 V1200" fill="none" stroke="#000" stroke-width="9.6" stroke-dasharray="29.5 10.3"/>
<line x1="9.5" y1="425.6" x2="9.5" y2="1200" stroke="#000" stroke-width="9.6" stroke-dasharray="29.5 10.3"/>
<path d="M140.5,494.6 C144.4,496.2 156.8,501.6 164.2,504.2 C171.6,506.8 178.8,509.9 185.1,509.9 C191.4,509.9 196.0,507.0 202.2,504.2 C208.3,501.4 218.7,494.9 222.0,493.0" fill="none" stroke="#f0a882" stroke-width="3.8"/>
<rect x="219.4" y="479" width="80.8" height="30" rx="12" fill="#f3ab7d"/>
<path d="M287.8,546.9 C291.6,548.3 303.0,553.3 310.6,555.5 C318.2,557.7 327.0,560.4 333.4,560.2 C339.8,560.0 342.9,557.6 348.7,554.5 C354.5,551.4 364.8,543.7 368.0,541.5" fill="none" stroke="#7cc344" stroke-width="4.1"/>
<rect x="365.8" y="532.7" width="81.3" height="30" rx="12" fill="#a6d18d"/>
<ellipse cx="331.5" cy="470.9" rx="20.9" ry="22.8" fill="url(#gCo)"/>
<ellipse cx="258.3" cy="543.5" rx="20.9" ry="22.8" fill="url(#gCo)"/>
<rect x="-44.5" y="-14.3" width="89" height="28.6" rx="14.3" transform="translate(419 477.1) rotate(36.9)" fill="url(#gRod)"/>
<rect x="-42" y="-14.3" width="84" height="28.6" rx="14.3" transform="translate(359.1 513.8) rotate(-30.5)" fill="url(#gRod)"/>
<rect x="171.8" y="574.5" width="305.2" height="49.4" rx="8" fill="#7f7f7f"/>
<text x="209.2" y="611.6" font-size="31.8" font-weight="bold" font-style="normal" fill="#fff" text-anchor="start" textLength="230.7" lengthAdjust="spacingAndGlyphs" stroke="#fff" stroke-width="0.70" stroke-linejoin="round">Gut microbiota</text>
<text x="499.1" y="530.4" font-size="34.5" font-weight="bold" font-style="normal" fill="#000" text-anchor="start" textLength="323.5" lengthAdjust="spacingAndGlyphs" stroke="#000" stroke-width="0.76" stroke-linejoin="round">Microbial functions</text>
<rect x="478.2" y="545.8" width="348" height="7.6" fill="#000"/>
<polygon points="845.7,549.6 824,538.6 824,560.6" fill="#000"/>
<text x="973.0" y="483.3" font-size="28.4" font-weight="bold" font-style="normal" fill="#000" text-anchor="start" textLength="277.1" lengthAdjust="spacingAndGlyphs" stroke="#000" stroke-width="0.62" stroke-linejoin="round">Alpha-Linolenic acid</text>
<polyline points="911.8,527.5 925.5,541.4 939.1,523.5 978.7,523.5 993.8,539.3 1011.1,522.7 1049.2,522.7 1066.5,541.4 1081.6,522.4 1119,522.4 1129.8,538.6" fill="none" stroke="#1a1a1a" stroke-width="1.7" stroke-linejoin="miter"/>
<line x1="943.5" y1="530.9" x2="975.1" y2="530.9" stroke="#1a1a1a" stroke-width="1.7"/>
<line x1="1014.7" y1="529.9" x2="1045.6" y2="529.9" stroke="#1a1a1a" stroke-width="1.7"/>
<line x1="1085.2" y1="529.6" x2="1115.4" y2="529.6" stroke="#1a1a1a" stroke-width="1.7"/>
<polyline points="1271.9,547.2 1287.8,536.7 1305.8,547.2" fill="none" stroke="#1a1a1a" stroke-width="1.7"/>
<line x1="1285.6" y1="517.7" x2="1285.6" y2="537" stroke="#1a1a1a" stroke-width="1.7"/>
<line x1="1291.1" y1="517.7" x2="1291.1" y2="537" stroke="#1a1a1a" stroke-width="1.7"/>
<text x="873.7" y="527.5" font-size="22" font-weight="normal" fill="#1a1a1a" textLength="37.4" lengthAdjust="spacingAndGlyphs">H<tspan font-size="13" dy="4.3">3</tspan><tspan dy="-4.3">C</tspan></text>
<text x="1128.8" y="555.8" font-size="23" font-weight="normal" fill="#1a1a1a" textLength="141" lengthAdjust="spacingAndGlyphs">CH<tspan font-size="14.5" dy="4">2</tspan><tspan dy="-4">(CH</tspan><tspan font-size="14.5" dy="4">2</tspan><tspan dy="-4">)</tspan><tspan font-size="14.5" dy="4">5</tspan><tspan dy="-4">CH</tspan><tspan font-size="14.5" dy="4">2</tspan></text>
<text x="1281.3" y="513.4" font-size="22.0" font-weight="normal" font-style="normal" fill="#1a1a1a" text-anchor="start" textLength="14.4" lengthAdjust="spacingAndGlyphs">O</text>
<text x="1307.2" y="560.1" font-size="22.0" font-weight="normal" font-style="normal" fill="#1a1a1a" text-anchor="start" textLength="29.5" lengthAdjust="spacingAndGlyphs">OH</text>
<rect x="888.2" y="572.7" width="438.1" height="46.7" rx="8" fill="#7f7f7f"/>
<text x="991.1" y="609.5" font-size="32.4" font-weight="bold" font-style="normal" fill="#fff" text-anchor="start" textLength="232.6" lengthAdjust="spacingAndGlyphs" stroke="#fff" stroke-width="0.71" stroke-linejoin="round">Gut metabolite</text>
<rect x="1365.5" y="548.4" width="101" height="7.8" fill="#2e75b6"/>
<polygon points="1486.4,552.3 1464.6,540.8 1464.6,563.8" fill="#2e75b6"/>
<rect x="1498.3" y="505.1" width="358.9" height="97.3" rx="15" fill="#e7e6e6" stroke="#767171" stroke-width="7"/>
<text x="1603.3" y="544.6" font-size="28.0" font-weight="bold" font-style="normal" fill="#000" text-anchor="start" textLength="150.1" lengthAdjust="spacingAndGlyphs" stroke="#000" stroke-width="0.62" stroke-linejoin="round">Improving</text>
<text x="1527.9" y="586.6" font-size="28.0" font-weight="bold" font-style="normal" fill="#000" text-anchor="start" textLength="299.6" lengthAdjust="spacingAndGlyphs" stroke="#000" stroke-width="0.62" stroke-linejoin="round">microbiota structure</text>
<text x="1202.3" y="701.4" font-size="33.5" font-weight="bold" font-style="normal" fill="#000" text-anchor="start" textLength="509.7" lengthAdjust="spacingAndGlyphs" stroke="#000" stroke-width="0.74" stroke-linejoin="round">Tight junction protein occludin</text>
<path d="M134.2,831.8 C134.2,822.0 134.1,786.5 134.2,773.2 C134.3,759.9 133.7,756.8 134.9,751.9 C136.1,747.0 137.3,745.6 141.3,744.1 C145.3,742.6 153.7,742.4 159.0,743.1 C164.3,743.8 170.2,744.6 173.2,748.4 C176.2,752.2 175.9,754.3 176.8,766.1 C177.7,777.9 177.1,807.6 178.6,819.4 C180.1,831.2 182.1,833.1 185.7,837.1 C189.2,841.1 195.8,843.2 199.9,843.5 C204.0,843.8 208.3,842.3 210.5,838.9 C212.7,835.5 213.0,833.8 213.0,822.9 C213.0,812.0 210.3,785.0 210.5,773.2 C210.7,761.4 211.4,756.6 214.1,751.9 C216.8,747.2 222.1,745.7 226.5,744.8 C230.9,743.9 237.3,744.2 240.7,746.6 C244.1,749.0 246.0,751.6 247.1,759.0 C248.2,766.4 247.9,778.0 247.1,791.0 C246.3,804.0 242.4,827.8 242.5,837.1 C242.6,846.5 244.6,845.2 247.8,847.1 C251.1,849.0 257.3,849.3 262.0,848.5 C266.7,847.7 273.2,846.2 276.2,842.5 C279.1,838.8 279.7,835.1 279.7,826.5 C279.7,817.9 277.4,802.2 276.2,791.0 C275.0,779.8 272.6,766.4 272.6,759.0 C272.6,751.6 273.8,748.5 276.2,746.6 C278.6,744.7 282.7,745.6 286.8,747.7 C290.9,749.8 297.4,753.6 301.0,759.0 C304.6,764.4 306.0,767.3 308.1,780.3 C310.2,793.3 312.1,821.1 313.4,837.1 C314.7,853.1 315.0,868.2 315.9,876.2 C316.8,884.2 317.6,883.2 318.8,885.0 C320.1,886.8 322.3,883.5 323.4,886.8 C324.5,890.1 325.1,885.1 325.2,904.6 C325.3,924.1 324.8,967.2 324.1,1003.9 C323.4,1040.6 321.7,1104.8 321.2,1125.0 L321,1200 L134.2,1200 Z" fill="url(#gL)"/>
<path d="M340.8,1125.0 C341.3,1107.8 342.2,1056.1 343.6,1021.7 C345.0,987.3 347.4,940.1 348.9,918.8 C350.4,897.5 351.1,898.9 352.5,893.9 C353.9,888.9 354.4,890.1 357.1,888.6 C359.8,887.1 365.9,888.2 368.5,885.0 C371.1,881.8 372.4,878.9 372.7,869.1 C373.0,859.4 370.9,839.5 370.2,826.5 C369.5,813.5 367.9,799.9 368.5,791.0 C369.1,782.1 370.2,778.1 373.8,773.2 C377.4,768.4 384.2,764.3 389.8,761.9 C395.4,759.5 402.2,758.6 407.5,759.0 C412.8,759.4 418.4,760.9 421.7,764.4 C424.9,767.9 425.9,769.9 427.0,780.3 C428.1,790.6 427.8,812.9 428.1,826.5 C428.4,840.1 427.5,854.2 428.8,862.0 C430.1,869.8 432.9,871.4 435.9,873.3 C438.8,875.2 441.5,874.6 446.5,873.3 C451.5,872.0 460.8,868.3 466.1,865.5 C471.4,862.7 475.9,860.8 478.5,856.7 C481.1,852.6 481.7,848.7 482.0,840.7 C482.3,832.7 481.0,818.8 480.3,808.7 C479.6,798.6 476.9,787.4 477.8,780.3 C478.7,773.2 481.4,769.6 485.6,766.1 C489.9,762.6 497.4,760.5 503.3,759.0 C509.2,757.5 516.4,756.4 521.1,757.3 C525.8,758.2 529.3,758.8 531.7,764.4 C534.1,770.0 534.4,779.5 535.3,791.0 C536.2,802.5 537.3,823.0 537.0,833.6 C536.7,844.2 532.9,850.2 533.5,854.9 C534.1,859.6 535.6,860.5 540.6,862.0 C545.6,863.5 556.9,864.0 563.7,863.7 C570.5,863.4 576.0,861.7 581.3,860.2 C586.6,858.7 592.5,858.1 595.5,854.9 C598.5,851.6 599.6,848.4 599.0,840.7 C598.4,833.0 594.1,820.0 592.0,808.7 C589.9,797.5 586.6,781.8 586.6,773.2 C586.6,764.6 588.1,761.0 592.0,757.3 C595.9,753.6 602.6,752.1 609.7,751.2 C616.8,750.3 628.0,750.9 634.5,751.9 C641.0,752.9 645.6,753.8 648.7,757.3 C651.8,760.8 652.3,761.7 653.0,773.2 C653.7,784.7 652.2,815.2 653.0,826.5 C653.8,837.8 654.8,837.6 657.6,840.7 C660.4,843.8 665.0,844.6 670.0,844.9 C675.0,845.2 683.9,844.4 687.8,842.5 C691.6,840.6 692.5,839.2 693.1,833.6 C693.7,828.0 692.5,818.8 691.3,808.7 C690.1,798.6 686.3,781.5 686.0,773.2 C685.7,764.9 686.9,762.5 689.6,759.0 C692.3,755.5 695.8,753.1 702.0,751.9 C708.2,750.7 718.5,751.0 726.8,751.9 C735.1,752.8 745.2,754.9 751.7,757.3 C758.2,759.7 762.8,760.5 765.9,766.1 C769.0,771.7 768.6,780.9 770.1,791.0 C771.6,801.1 772.8,817.9 774.7,826.5 C776.7,835.1 777.3,839.0 781.8,842.5 C786.2,846.0 794.0,847.5 801.4,847.8 C808.8,848.1 819.7,846.6 826.2,844.2 C832.7,841.8 837.4,839.5 840.4,833.6 C843.4,827.7 844.3,818.8 844.0,808.7 C843.7,798.6 838.6,781.8 838.6,773.2 C838.6,764.6 840.1,761.1 844.0,757.3 C847.9,753.5 855.8,751.4 861.7,750.2 C867.6,749.0 873.8,749.0 879.4,750.2 C885.0,751.4 891.8,753.5 895.4,757.3 C899.0,761.1 899.5,764.6 900.7,773.2 C901.9,781.8 901.6,798.6 902.5,808.7 C903.4,818.8 904.0,826.8 906.1,833.6 C908.2,840.4 910.5,846.5 914.9,849.6 C919.3,852.7 926.2,852.3 932.7,852.0 C939.2,851.7 948.1,850.3 954.0,847.8 C959.9,845.3 965.0,843.6 968.2,837.1 C971.5,830.6 973.2,818.2 973.5,808.7 C973.8,799.2 969.7,788.0 970.0,780.3 C970.3,772.6 972.6,766.4 975.3,762.6 C977.9,758.8 981.8,758.6 985.9,757.3 C990.0,756.0 995.3,755.4 1000.0,755.0 C1004.7,754.6 1008.9,754.4 1014.2,754.8 C1019.5,755.2 1026.9,755.4 1031.9,757.3 C1036.9,759.2 1041.7,761.7 1044.4,766.1 C1047.1,770.5 1048.2,776.2 1047.9,783.9 C1047.6,791.6 1043.8,803.4 1042.6,812.3 C1041.4,821.2 1039.6,830.3 1040.8,837.1 C1042.0,843.9 1044.7,849.4 1049.7,853.1 C1054.7,856.8 1062.7,858.5 1071.0,859.1 C1079.3,859.7 1092.3,858.6 1099.4,856.7 C1106.5,854.8 1110.6,852.8 1113.6,847.8 C1116.5,842.8 1117.1,836.0 1117.1,826.5 C1117.1,817.0 1113.9,800.5 1113.6,791.0 C1113.3,781.5 1113.0,774.7 1115.4,769.7 C1117.8,764.7 1121.6,762.7 1127.8,760.8 C1134.0,758.9 1144.3,758.0 1152.6,758.3 C1160.9,758.6 1171.9,760.1 1177.5,762.6 C1183.1,765.1 1184.2,767.3 1186.3,773.2 C1188.4,779.1 1189.3,787.5 1189.9,798.1 C1190.5,808.8 1189.0,827.6 1189.9,837.1 C1190.8,846.6 1191.4,850.8 1195.2,854.9 C1199.0,859.0 1206.5,861.4 1213.0,862.0 C1219.5,862.6 1229.0,860.8 1234.3,858.4 C1239.6,856.0 1242.8,854.3 1244.9,847.8 C1247.0,841.3 1247.0,830.0 1246.7,819.4 C1246.4,808.8 1242.8,792.5 1243.1,783.9 C1243.4,775.3 1244.7,771.8 1248.5,767.9 C1252.3,764.0 1259.1,762.0 1266.2,760.8 C1273.3,759.6 1284.8,759.3 1291.0,760.8 C1297.2,762.3 1300.8,764.7 1303.5,769.7 C1306.2,774.7 1305.5,781.5 1307.0,791.0 C1308.5,800.5 1310.2,817.6 1312.3,826.5 C1314.4,835.4 1315.2,839.8 1319.4,844.2 C1323.6,848.6 1331.9,852.2 1337.2,853.1 C1342.5,854.0 1348.5,852.3 1351.4,849.6 C1354.4,846.9 1355.2,843.9 1354.9,837.1 C1354.6,830.3 1352.0,819.4 1349.6,808.7 C1347.2,798.1 1341.9,781.8 1340.7,773.2 C1339.5,764.6 1340.1,761.1 1342.5,757.3 C1344.9,753.5 1348.1,751.7 1354.9,750.2 C1361.7,748.7 1374.4,748.1 1383.3,748.4 C1392.2,748.7 1402.9,749.5 1408.2,751.9 C1413.5,754.3 1415.0,756.1 1415.3,762.6 C1415.6,769.1 1413.0,780.4 1410.0,791.0 C1407.0,801.6 1399.0,818.2 1397.5,826.5 C1396.0,834.8 1398.1,837.2 1401.1,840.7 C1404.1,844.2 1408.8,846.9 1415.3,847.8 C1421.8,848.7 1431.8,846.9 1440.0,846.0 C1448.2,845.1 1458.0,844.3 1464.8,842.5 C1471.6,840.7 1477.4,838.7 1480.8,835.4 C1484.2,832.1 1486.3,830.3 1485.4,822.9 C1484.5,815.5 1478.6,800.5 1475.5,791.0 C1472.4,781.5 1467.5,772.6 1466.6,766.1 C1465.7,759.6 1467.0,755.6 1470.2,751.9 C1473.5,748.2 1480.2,745.6 1486.1,744.1 C1492.0,742.6 1500.7,742.1 1505.7,743.1 C1510.7,744.1 1513.8,745.8 1516.3,750.2 C1518.8,754.6 1520.3,758.2 1520.9,769.7 C1521.5,781.2 1519.2,808.2 1519.9,819.4 C1520.6,830.6 1521.4,832.7 1525.2,837.1 C1529.0,841.5 1536.4,844.8 1542.9,846.0 C1549.4,847.2 1558.3,846.3 1564.2,844.2 C1570.1,842.1 1575.4,839.5 1578.4,833.6 C1581.4,827.7 1582.3,820.0 1582.0,808.7 C1581.7,797.5 1576.7,776.2 1576.7,766.1 C1576.7,756.0 1578.2,753.0 1582.0,748.4 C1585.8,743.8 1594.1,740.0 1599.7,738.5 C1605.3,737.0 1611.6,737.3 1615.7,739.5 C1619.8,741.7 1623.1,743.3 1624.6,751.9 C1626.1,760.5 1625.5,777.4 1624.6,791.0 C1623.7,804.6 1619.2,824.4 1619.2,833.6 C1619.2,842.8 1621.3,843.6 1624.6,846.0 C1627.9,848.4 1635.0,846.6 1638.8,847.8 C1642.6,849.0 1645.5,850.1 1647.6,853.1 C1649.7,856.1 1650.9,858.1 1651.2,865.5 C1651.5,872.9 1649.4,883.3 1649.4,897.5 C1649.4,911.7 1649.7,927.1 1651.2,950.7 C1652.7,974.4 1655.8,1010.4 1658.3,1039.4 C1660.8,1068.5 1665.1,1110.7 1666.4,1125.0 L1666,1200 L340,1200 Z" fill="url(#gM)"/>
<path d="M340.8,1125.0 C341.3,1107.8 342.2,1056.1 343.6,1021.7 C345.0,987.3 347.4,940.1 348.9,918.8 C350.4,897.5 351.1,898.9 352.5,893.9 C353.9,888.9 354.4,890.1 357.1,888.6 C359.8,887.1 365.9,888.2 368.5,885.0 C371.1,881.8 372.4,878.9 372.7,869.1 C373.0,859.4 370.9,839.5 370.2,826.5 C369.5,813.5 367.9,799.9 368.5,791.0 C369.1,782.1 370.2,778.1 373.8,773.2 C377.4,768.4 384.2,764.3 389.8,761.9 C395.4,759.5 402.2,758.6 407.5,759.0 C412.8,759.4 418.4,760.9 421.7,764.4 C424.9,767.9 425.9,769.9 427.0,780.3 C428.1,790.6 427.8,812.9 428.1,826.5 C428.4,840.1 427.5,854.2 428.8,862.0 C430.1,869.8 432.9,871.4 435.9,873.3 C438.8,875.2 441.5,874.6 446.5,873.3 C451.5,872.0 460.8,868.3 466.1,865.5 C471.4,862.7 475.9,860.8 478.5,856.7 C481.1,852.6 481.7,848.7 482.0,840.7 C482.3,832.7 481.0,818.8 480.3,808.7 C479.6,798.6 476.9,787.4 477.8,780.3 C478.7,773.2 481.4,769.6 485.6,766.1 C489.9,762.6 497.4,760.5 503.3,759.0 C509.2,757.5 516.4,756.4 521.1,757.3 C525.8,758.2 529.3,758.8 531.7,764.4 C534.1,770.0 534.4,779.5 535.3,791.0 C536.2,802.5 537.3,823.0 537.0,833.6 C536.7,844.2 532.9,850.2 533.5,854.9 C534.1,859.6 535.6,860.5 540.6,862.0 C545.6,863.5 556.9,864.0 563.7,863.7 C570.5,863.4 576.0,861.7 581.3,860.2 C586.6,858.7 592.5,858.1 595.5,854.9 C598.5,851.6 599.6,848.4 599.0,840.7 C598.4,833.0 594.1,820.0 592.0,808.7 C589.9,797.5 586.6,781.8 586.6,773.2 C586.6,764.6 588.1,761.0 592.0,757.3 C595.9,753.6 602.6,752.1 609.7,751.2 C616.8,750.3 628.0,750.9 634.5,751.9 C641.0,752.9 645.6,753.8 648.7,757.3 C651.8,760.8 652.3,761.7 653.0,773.2 C653.7,784.7 652.2,815.2 653.0,826.5 C653.8,837.8 654.8,837.6 657.6,840.7 C660.4,843.8 665.0,844.6 670.0,844.9 C675.0,845.2 683.9,844.4 687.8,842.5 C691.6,840.6 692.5,839.2 693.1,833.6 C693.7,828.0 692.5,818.8 691.3,808.7 C690.1,798.6 686.3,781.5 686.0,773.2 C685.7,764.9 686.9,762.5 689.6,759.0 C692.3,755.5 695.8,753.1 702.0,751.9 C708.2,750.7 718.5,751.0 726.8,751.9 C735.1,752.8 745.2,754.9 751.7,757.3 C758.2,759.7 762.8,760.5 765.9,766.1 C769.0,771.7 768.6,780.9 770.1,791.0 C771.6,801.1 772.8,817.9 774.7,826.5 C776.7,835.1 777.3,839.0 781.8,842.5 C786.2,846.0 794.0,847.5 801.4,847.8 C808.8,848.1 819.7,846.6 826.2,844.2 C832.7,841.8 837.4,839.5 840.4,833.6 C843.4,827.7 844.3,818.8 844.0,808.7 C843.7,798.6 838.6,781.8 838.6,773.2 C838.6,764.6 840.1,761.1 844.0,757.3 C847.9,753.5 855.8,751.4 861.7,750.2 C867.6,749.0 873.8,749.0 879.4,750.2 C885.0,751.4 891.8,753.5 895.4,757.3 C899.0,761.1 899.5,764.6 900.7,773.2 C901.9,781.8 901.6,798.6 902.5,808.7 C903.4,818.8 904.0,826.8 906.1,833.6 C908.2,840.4 910.5,846.5 914.9,849.6 C919.3,852.7 926.2,852.3 932.7,852.0 C939.2,851.7 948.1,850.3 954.0,847.8 C959.9,845.3 965.0,843.6 968.2,837.1 C971.5,830.6 973.2,818.2 973.5,808.7 C973.8,799.2 969.7,788.0 970.0,780.3 C970.3,772.6 972.6,766.4 975.3,762.6 C977.9,758.8 981.8,758.6 985.9,757.3 C990.0,756.0 995.3,755.4 1000.0,755.0 C1004.7,754.6 1008.9,754.4 1014.2,754.8 C1019.5,755.2 1026.9,755.4 1031.9,757.3 C1036.9,759.2 1041.7,761.7 1044.4,766.1 C1047.1,770.5 1048.2,776.2 1047.9,783.9 C1047.6,791.6 1043.8,803.4 1042.6,812.3 C1041.4,821.2 1039.6,830.3 1040.8,837.1 C1042.0,843.9 1044.7,849.4 1049.7,853.1 C1054.7,856.8 1062.7,858.5 1071.0,859.1 C1079.3,859.7 1092.3,858.6 1099.4,856.7 C1106.5,854.8 1110.6,852.8 1113.6,847.8 C1116.5,842.8 1117.1,836.0 1117.1,826.5 C1117.1,817.0 1113.9,800.5 1113.6,791.0 C1113.3,781.5 1113.0,774.7 1115.4,769.7 C1117.8,764.7 1121.6,762.7 1127.8,760.8 C1134.0,758.9 1144.3,758.0 1152.6,758.3 C1160.9,758.6 1171.9,760.1 1177.5,762.6 C1183.1,765.1 1184.2,767.3 1186.3,773.2 C1188.4,779.1 1189.3,787.5 1189.9,798.1 C1190.5,808.8 1189.0,827.6 1189.9,837.1 C1190.8,846.6 1191.4,850.8 1195.2,854.9 C1199.0,859.0 1206.5,861.4 1213.0,862.0 C1219.5,862.6 1229.0,860.8 1234.3,858.4 C1239.6,856.0 1242.8,854.3 1244.9,847.8 C1247.0,841.3 1247.0,830.0 1246.7,819.4 C1246.4,808.8 1242.8,792.5 1243.1,783.9 C1243.4,775.3 1244.7,771.8 1248.5,767.9 C1252.3,764.0 1259.1,762.0 1266.2,760.8 C1273.3,759.6 1284.8,759.3 1291.0,760.8 C1297.2,762.3 1300.8,764.7 1303.5,769.7 C1306.2,774.7 1305.5,781.5 1307.0,791.0 C1308.5,800.5 1310.2,817.6 1312.3,826.5 C1314.4,835.4 1315.2,839.8 1319.4,844.2 C1323.6,848.6 1331.9,852.2 1337.2,853.1 C1342.5,854.0 1348.5,852.3 1351.4,849.6 C1354.4,846.9 1355.2,843.9 1354.9,837.1 C1354.6,830.3 1352.0,819.4 1349.6,808.7 C1347.2,798.1 1341.9,781.8 1340.7,773.2 C1339.5,764.6 1340.1,761.1 1342.5,757.3 C1344.9,753.5 1348.1,751.7 1354.9,750.2 C1361.7,748.7 1374.4,748.1 1383.3,748.4 C1392.2,748.7 1402.9,749.5 1408.2,751.9 C1413.5,754.3 1415.0,756.1 1415.3,762.6 C1415.6,769.1 1413.0,780.4 1410.0,791.0 C1407.0,801.6 1399.0,818.2 1397.5,826.5 C1396.0,834.8 1398.1,837.2 1401.1,840.7 C1404.1,844.2 1408.8,846.9 1415.3,847.8 C1421.8,848.7 1431.8,846.9 1440.0,846.0 C1448.2,845.1 1458.0,844.3 1464.8,842.5 C1471.6,840.7 1477.4,838.7 1480.8,835.4 C1484.2,832.1 1486.3,830.3 1485.4,822.9 C1484.5,815.5 1478.6,800.5 1475.5,791.0 C1472.4,781.5 1467.5,772.6 1466.6,766.1 C1465.7,759.6 1467.0,755.6 1470.2,751.9 C1473.5,748.2 1480.2,745.6 1486.1,744.1 C1492.0,742.6 1500.7,742.1 1505.7,743.1 C1510.7,744.1 1513.8,745.8 1516.3,750.2 C1518.8,754.6 1520.3,758.2 1520.9,769.7 C1521.5,781.2 1519.2,808.2 1519.9,819.4 C1520.6,830.6 1521.4,832.7 1525.2,837.1 C1529.0,841.5 1536.4,844.8 1542.9,846.0 C1549.4,847.2 1558.3,846.3 1564.2,844.2 C1570.1,842.1 1575.4,839.5 1578.4,833.6 C1581.4,827.7 1582.3,820.0 1582.0,808.7 C1581.7,797.5 1576.7,776.2 1576.7,766.1 C1576.7,756.0 1578.2,753.0 1582.0,748.4 C1585.8,743.8 1594.1,740.0 1599.7,738.5 C1605.3,737.0 1611.6,737.3 1615.7,739.5 C1619.8,741.7 1623.1,743.3 1624.6,751.9 C1626.1,760.5 1625.5,777.4 1624.6,791.0 C1623.7,804.6 1619.2,824.4 1619.2,833.6 C1619.2,842.8 1621.3,843.6 1624.6,846.0 C1627.9,848.4 1635.0,846.6 1638.8,847.8 C1642.6,849.0 1645.5,850.1 1647.6,853.1 C1649.7,856.1 1650.9,858.1 1651.2,865.5 C1651.5,872.9 1649.4,883.3 1649.4,897.5 C1649.4,911.7 1649.7,927.1 1651.2,950.7 C1652.7,974.4 1655.8,1010.4 1658.3,1039.4 C1660.8,1068.5 1665.1,1110.7 1666.4,1125.0 L1666,1200 L340,1200 Z" fill="url(#gMr)"/>
<path d="M1688.5,1125.0 C1687.9,1110.7 1686.1,1071.4 1684.9,1039.4 C1683.7,1007.4 1682.3,961.4 1681.4,933.0 C1680.5,904.6 1679.6,883.0 1679.6,869.1 C1679.6,855.2 1680.5,853.2 1681.4,849.6 C1682.3,846.0 1683.1,846.6 1684.9,847.8 C1686.7,849.0 1689.9,856.1 1692.0,856.7 C1694.1,857.3 1695.8,856.3 1697.3,851.3 C1698.8,846.3 1701.1,836.5 1700.9,826.5 C1700.7,816.5 1697.5,801.1 1696.3,791.0 C1695.1,780.9 1693.3,773.2 1693.8,766.1 C1694.3,759.0 1695.8,752.8 1699.1,748.4 C1702.3,744.0 1708.6,740.8 1713.3,739.5 C1718.0,738.2 1724.1,737.9 1727.5,740.6 C1730.9,743.3 1732.7,744.1 1733.9,755.5 C1735.1,766.9 1734.5,793.9 1734.6,808.7 C1734.7,823.5 1733.7,836.6 1734.6,844.2 C1735.5,851.8 1737.0,854.5 1739.9,854.2 C1742.9,853.9 1749.0,847.1 1752.3,842.5 C1755.5,837.9 1757.9,835.1 1759.4,826.5 C1760.9,817.9 1760.9,802.8 1761.2,791.0 C1761.5,779.2 1760.0,764.1 1761.2,755.5 C1762.4,746.9 1765.0,742.9 1768.3,739.5 C1771.5,736.1 1776.5,734.9 1780.7,734.9 C1784.9,734.9 1790.5,734.9 1793.2,739.5 C1795.9,744.1 1795.7,751.1 1796.7,762.6 C1797.7,774.1 1798.0,796.3 1799.2,808.7 C1800.4,821.1 1801.8,831.3 1803.8,837.1 C1805.8,842.9 1807.4,843.8 1810.9,843.5 C1814.5,843.2 1820.9,839.4 1825.1,835.4 C1829.2,831.4 1832.8,829.8 1835.8,819.4 C1838.8,809.0 1842.3,785.0 1842.9,773.2 C1843.5,761.4 1839.0,754.6 1839.3,748.4 C1839.6,742.2 1840.8,738.7 1844.6,736.0 C1848.4,733.3 1856.8,732.4 1862.4,732.4 C1868.0,732.4 1874.6,732.1 1878.4,736.0 C1882.2,739.9 1884.1,746.3 1885.4,755.5 C1886.8,764.7 1886.9,780.0 1886.5,791.0 C1886.1,802.0 1883.6,816.2 1883.0,821.2 L1890,1200 L1688,1200 Z" fill="url(#gR)"/>
<path d="M134.2,831.8 C134.2,822.0 134.1,786.5 134.2,773.2 C134.3,759.9 133.7,756.8 134.9,751.9 C136.1,747.0 137.3,745.6 141.3,744.1 C145.3,742.6 153.7,742.4 159.0,743.1 C164.3,743.8 170.2,744.6 173.2,748.4 C176.2,752.2 175.9,754.3 176.8,766.1 C177.7,777.9 177.1,807.6 178.6,819.4 C180.1,831.2 182.1,833.1 185.7,837.1 C189.2,841.1 195.8,843.2 199.9,843.5 C204.0,843.8 208.3,842.3 210.5,838.9 C212.7,835.5 213.0,833.8 213.0,822.9 C213.0,812.0 210.3,785.0 210.5,773.2 C210.7,761.4 211.4,756.6 214.1,751.9 C216.8,747.2 222.1,745.7 226.5,744.8 C230.9,743.9 237.3,744.2 240.7,746.6 C244.1,749.0 246.0,751.6 247.1,759.0 C248.2,766.4 247.9,778.0 247.1,791.0 C246.3,804.0 242.4,827.8 242.5,837.1 C242.6,846.5 244.6,845.2 247.8,847.1 C251.1,849.0 257.3,849.3 262.0,848.5 C266.7,847.7 273.2,846.2 276.2,842.5 C279.1,838.8 279.7,835.1 279.7,826.5 C279.7,817.9 277.4,802.2 276.2,791.0 C275.0,779.8 272.6,766.4 272.6,759.0 C272.6,751.6 273.8,748.5 276.2,746.6 C278.6,744.7 282.7,745.6 286.8,747.7 C290.9,749.8 297.4,753.6 301.0,759.0 C304.6,764.4 306.0,767.3 308.1,780.3 C310.2,793.3 312.1,821.1 313.4,837.1 C314.7,853.1 315.0,868.2 315.9,876.2 C316.8,884.2 317.6,883.2 318.8,885.0 C320.1,886.8 322.3,883.5 323.4,886.8 C324.5,890.1 325.1,885.1 325.2,904.6 C325.3,924.1 324.8,967.2 324.1,1003.9 C323.4,1040.6 321.7,1104.8 321.2,1125.0" fill="none" stroke="#5c0d0d" stroke-width="4.3" stroke-linejoin="round" stroke-linecap="butt"/>
<path d="M340.8,1125.0 C341.3,1107.8 342.2,1056.1 343.6,1021.7 C345.0,987.3 347.4,940.1 348.9,918.8 C350.4,897.5 351.1,898.9 352.5,893.9 C353.9,888.9 354.4,890.1 357.1,888.6 C359.8,887.1 365.9,888.2 368.5,885.0 C371.1,881.8 372.4,878.9 372.7,869.1 C373.0,859.4 370.9,839.5 370.2,826.5 C369.5,813.5 367.9,799.9 368.5,791.0 C369.1,782.1 370.2,778.1 373.8,773.2 C377.4,768.4 384.2,764.3 389.8,761.9 C395.4,759.5 402.2,758.6 407.5,759.0 C412.8,759.4 418.4,760.9 421.7,764.4 C424.9,767.9 425.9,769.9 427.0,780.3 C428.1,790.6 427.8,812.9 428.1,826.5 C428.4,840.1 427.5,854.2 428.8,862.0 C430.1,869.8 432.9,871.4 435.9,873.3 C438.8,875.2 441.5,874.6 446.5,873.3 C451.5,872.0 460.8,868.3 466.1,865.5 C471.4,862.7 475.9,860.8 478.5,856.7 C481.1,852.6 481.7,848.7 482.0,840.7 C482.3,832.7 481.0,818.8 480.3,808.7 C479.6,798.6 476.9,787.4 477.8,780.3 C478.7,773.2 481.4,769.6 485.6,766.1 C489.9,762.6 497.4,760.5 503.3,759.0 C509.2,757.5 516.4,756.4 521.1,757.3 C525.8,758.2 529.3,758.8 531.7,764.4 C534.1,770.0 534.4,779.5 535.3,791.0 C536.2,802.5 537.3,823.0 537.0,833.6 C536.7,844.2 532.9,850.2 533.5,854.9 C534.1,859.6 535.6,860.5 540.6,862.0 C545.6,863.5 556.9,864.0 563.7,863.7 C570.5,863.4 576.0,861.7 581.3,860.2 C586.6,858.7 592.5,858.1 595.5,854.9 C598.5,851.6 599.6,848.4 599.0,840.7 C598.4,833.0 594.1,820.0 592.0,808.7 C589.9,797.5 586.6,781.8 586.6,773.2 C586.6,764.6 588.1,761.0 592.0,757.3 C595.9,753.6 602.6,752.1 609.7,751.2 C616.8,750.3 628.0,750.9 634.5,751.9 C641.0,752.9 645.6,753.8 648.7,757.3 C651.8,760.8 652.3,761.7 653.0,773.2 C653.7,784.7 652.2,815.2 653.0,826.5 C653.8,837.8 654.8,837.6 657.6,840.7 C660.4,843.8 665.0,844.6 670.0,844.9 C675.0,845.2 683.9,844.4 687.8,842.5 C691.6,840.6 692.5,839.2 693.1,833.6 C693.7,828.0 692.5,818.8 691.3,808.7 C690.1,798.6 686.3,781.5 686.0,773.2 C685.7,764.9 686.9,762.5 689.6,759.0 C692.3,755.5 695.8,753.1 702.0,751.9 C708.2,750.7 718.5,751.0 726.8,751.9 C735.1,752.8 745.2,754.9 751.7,757.3 C758.2,759.7 762.8,760.5 765.9,766.1 C769.0,771.7 768.6,780.9 770.1,791.0 C771.6,801.1 772.8,817.9 774.7,826.5 C776.7,835.1 777.3,839.0 781.8,842.5 C786.2,846.0 794.0,847.5 801.4,847.8 C808.8,848.1 819.7,846.6 826.2,844.2 C832.7,841.8 837.4,839.5 840.4,833.6 C843.4,827.7 844.3,818.8 844.0,808.7 C843.7,798.6 838.6,781.8 838.6,773.2 C838.6,764.6 840.1,761.1 844.0,757.3 C847.9,753.5 855.8,751.4 861.7,750.2 C867.6,749.0 873.8,749.0 879.4,750.2 C885.0,751.4 891.8,753.5 895.4,757.3 C899.0,761.1 899.5,764.6 900.7,773.2 C901.9,781.8 901.6,798.6 902.5,808.7 C903.4,818.8 904.0,826.8 906.1,833.6 C908.2,840.4 910.5,846.5 914.9,849.6 C919.3,852.7 926.2,852.3 932.7,852.0 C939.2,851.7 948.1,850.3 954.0,847.8 C959.9,845.3 965.0,843.6 968.2,837.1 C971.5,830.6 973.2,818.2 973.5,808.7 C973.8,799.2 969.7,788.0 970.0,780.3 C970.3,772.6 972.6,766.4 975.3,762.6 C977.9,758.8 981.8,758.6 985.9,757.3 C990.0,756.0 995.3,755.4 1000.0,755.0 C1004.7,754.6 1008.9,754.4 1014.2,754.8 C1019.5,755.2 1026.9,755.4 1031.9,757.3 C1036.9,759.2 1041.7,761.7 1044.4,766.1 C1047.1,770.5 1048.2,776.2 1047.9,783.9 C1047.6,791.6 1043.8,803.4 1042.6,812.3 C1041.4,821.2 1039.6,830.3 1040.8,837.1 C1042.0,843.9 1044.7,849.4 1049.7,853.1 C1054.7,856.8 1062.7,858.5 1071.0,859.1 C1079.3,859.7 1092.3,858.6 1099.4,856.7 C1106.5,854.8 1110.6,852.8 1113.6,847.8 C1116.5,842.8 1117.1,836.0 1117.1,826.5 C1117.1,817.0 1113.9,800.5 1113.6,791.0 C1113.3,781.5 1113.0,774.7 1115.4,769.7 C1117.8,764.7 1121.6,762.7 1127.8,760.8 C1134.0,758.9 1144.3,758.0 1152.6,758.3 C1160.9,758.6 1171.9,760.1 1177.5,762.6 C1183.1,765.1 1184.2,767.3 1186.3,773.2 C1188.4,779.1 1189.3,787.5 1189.9,798.1 C1190.5,808.8 1189.0,827.6 1189.9,837.1 C1190.8,846.6 1191.4,850.8 1195.2,854.9 C1199.0,859.0 1206.5,861.4 1213.0,862.0 C1219.5,862.6 1229.0,860.8 1234.3,858.4 C1239.6,856.0 1242.8,854.3 1244.9,847.8 C1247.0,841.3 1247.0,830.0 1246.7,819.4 C1246.4,808.8 1242.8,792.5 1243.1,783.9 C1243.4,775.3 1244.7,771.8 1248.5,767.9 C1252.3,764.0 1259.1,762.0 1266.2,760.8 C1273.3,759.6 1284.8,759.3 1291.0,760.8 C1297.2,762.3 1300.8,764.7 1303.5,769.7 C1306.2,774.7 1305.5,781.5 1307.0,791.0 C1308.5,800.5 1310.2,817.6 1312.3,826.5 C1314.4,835.4 1315.2,839.8 1319.4,844.2 C1323.6,848.6 1331.9,852.2 1337.2,853.1 C1342.5,854.0 1348.5,852.3 1351.4,849.6 C1354.4,846.9 1355.2,843.9 1354.9,837.1 C1354.6,830.3 1352.0,819.4 1349.6,808.7 C1347.2,798.1 1341.9,781.8 1340.7,773.2 C1339.5,764.6 1340.1,761.1 1342.5,757.3 C1344.9,753.5 1348.1,751.7 1354.9,750.2 C1361.7,748.7 1374.4,748.1 1383.3,748.4 C1392.2,748.7 1402.9,749.5 1408.2,751.9 C1413.5,754.3 1415.0,756.1 1415.3,762.6 C1415.6,769.1 1413.0,780.4 1410.0,791.0 C1407.0,801.6 1399.0,818.2 1397.5,826.5 C1396.0,834.8 1398.1,837.2 1401.1,840.7 C1404.1,844.2 1408.8,846.9 1415.3,847.8 C1421.8,848.7 1431.8,846.9 1440.0,846.0 C1448.2,845.1 1458.0,844.3 1464.8,842.5 C1471.6,840.7 1477.4,838.7 1480.8,835.4 C1484.2,832.1 1486.3,830.3 1485.4,822.9 C1484.5,815.5 1478.6,800.5 1475.5,791.0 C1472.4,781.5 1467.5,772.6 1466.6,766.1 C1465.7,759.6 1467.0,755.6 1470.2,751.9 C1473.5,748.2 1480.2,745.6 1486.1,744.1 C1492.0,742.6 1500.7,742.1 1505.7,743.1 C1510.7,744.1 1513.8,745.8 1516.3,750.2 C1518.8,754.6 1520.3,758.2 1520.9,769.7 C1521.5,781.2 1519.2,808.2 1519.9,819.4 C1520.6,830.6 1521.4,832.7 1525.2,837.1 C1529.0,841.5 1536.4,844.8 1542.9,846.0 C1549.4,847.2 1558.3,846.3 1564.2,844.2 C1570.1,842.1 1575.4,839.5 1578.4,833.6 C1581.4,827.7 1582.3,820.0 1582.0,808.7 C1581.7,797.5 1576.7,776.2 1576.7,766.1 C1576.7,756.0 1578.2,753.0 1582.0,748.4 C1585.8,743.8 1594.1,740.0 1599.7,738.5 C1605.3,737.0 1611.6,737.3 1615.7,739.5 C1619.8,741.7 1623.1,743.3 1624.6,751.9 C1626.1,760.5 1625.5,777.4 1624.6,791.0 C1623.7,804.6 1619.2,824.4 1619.2,833.6 C1619.2,842.8 1621.3,843.6 1624.6,846.0 C1627.9,848.4 1635.0,846.6 1638.8,847.8 C1642.6,849.0 1645.5,850.1 1647.6,853.1 C1649.7,856.1 1650.9,858.1 1651.2,865.5 C1651.5,872.9 1649.4,883.3 1649.4,897.5 C1649.4,911.7 1649.7,927.1 1651.2,950.7 C1652.7,974.4 1655.8,1010.4 1658.3,1039.4 C1660.8,1068.5 1665.1,1110.7 1666.4,1125.0" fill="none" stroke="#5c0d0d" stroke-width="4.3" stroke-linejoin="round" stroke-linecap="butt"/>
<path d="M1688.5,1125.0 C1687.9,1110.7 1686.1,1071.4 1684.9,1039.4 C1683.7,1007.4 1682.3,961.4 1681.4,933.0 C1680.5,904.6 1679.6,883.0 1679.6,869.1 C1679.6,855.2 1680.5,853.2 1681.4,849.6 C1682.3,846.0 1683.1,846.6 1684.9,847.8 C1686.7,849.0 1689.9,856.1 1692.0,856.7 C1694.1,857.3 1695.8,856.3 1697.3,851.3 C1698.8,846.3 1701.1,836.5 1700.9,826.5 C1700.7,816.5 1697.5,801.1 1696.3,791.0 C1695.1,780.9 1693.3,773.2 1693.8,766.1 C1694.3,759.0 1695.8,752.8 1699.1,748.4 C1702.3,744.0 1708.6,740.8 1713.3,739.5 C1718.0,738.2 1724.1,737.9 1727.5,740.6 C1730.9,743.3 1732.7,744.1 1733.9,755.5 C1735.1,766.9 1734.5,793.9 1734.6,808.7 C1734.7,823.5 1733.7,836.6 1734.6,844.2 C1735.5,851.8 1737.0,854.5 1739.9,854.2 C1742.9,853.9 1749.0,847.1 1752.3,842.5 C1755.5,837.9 1757.9,835.1 1759.4,826.5 C1760.9,817.9 1760.9,802.8 1761.2,791.0 C1761.5,779.2 1760.0,764.1 1761.2,755.5 C1762.4,746.9 1765.0,742.9 1768.3,739.5 C1771.5,736.1 1776.5,734.9 1780.7,734.9 C1784.9,734.9 1790.5,734.9 1793.2,739.5 C1795.9,744.1 1795.7,751.1 1796.7,762.6 C1797.7,774.1 1798.0,796.3 1799.2,808.7 C1800.4,821.1 1801.8,831.3 1803.8,837.1 C1805.8,842.9 1807.4,843.8 1810.9,843.5 C1814.5,843.2 1820.9,839.4 1825.1,835.4 C1829.2,831.4 1832.8,829.8 1835.8,819.4 C1838.8,809.0 1842.3,785.0 1842.9,773.2 C1843.5,761.4 1839.0,754.6 1839.3,748.4 C1839.6,742.2 1840.8,738.7 1844.6,736.0 C1848.4,733.3 1856.8,732.4 1862.4,732.4 C1868.0,732.4 1874.6,732.1 1878.4,736.0 C1882.2,739.9 1884.1,746.3 1885.4,755.5 C1886.8,764.7 1886.9,780.0 1886.5,791.0 C1886.1,802.0 1883.6,816.2 1883.0,821.2" fill="none" stroke="#5c0d0d" stroke-width="4.3" stroke-linejoin="round" stroke-linecap="butt"/>
<rect x="760.4" y="781.7" width="92.8" height="14" fill="#c55a11"/>
<rect x="760.4" y="807.2" width="92.8" height="14" fill="#c55a11"/>
<rect x="760.4" y="832.7" width="92.8" height="14" fill="#c55a11"/>
<rect x="885.5" y="781.7" width="94.0" height="14" fill="#c55a11"/>
<rect x="885.5" y="807.2" width="94.0" height="14" fill="#c55a11"/>
<rect x="885.5" y="832.7" width="94.0" height="14" fill="#c55a11"/>
<rect x="1034" y="785.0" width="93.3" height="14" fill="#c55a11"/>
<rect x="1034" y="810.5" width="93.3" height="14" fill="#c55a11"/>
<rect x="1034" y="836.0" width="93.3" height="14" fill="#c55a11"/>
<rect x="1167.5" y="786.3" width="94.1" height="14" fill="#c55a11"/>
<rect x="1167.5" y="811.8" width="94.1" height="14" fill="#c55a11"/>
<rect x="1167.5" y="837.3" width="94.1" height="14" fill="#c55a11"/>
<rect x="1290.3" y="786.3" width="76.3" height="14" fill="#c55a11"/>
<rect x="1290.3" y="811.8" width="76.3" height="14" fill="#c55a11"/>
<rect x="1290.3" y="837.3" width="76.3" height="14" fill="#c55a11"/>
<rect x="998.5" y="720" width="12.6" height="50" fill="url(#gSt)" stroke="#a31a28" stroke-width="1.6"/>
<rect x="981" y="766.6" width="46.2" height="96.4" rx="10" fill="url(#gTm)" stroke="#a31a28" stroke-width="1.8"/>
<ellipse cx="1004.2" cy="712" rx="30.6" ry="11.2" fill="url(#gEl)" stroke="#a31a28" stroke-width="1.9"/>
<ellipse cx="1004.2" cy="691.3" rx="30.6" ry="11.2" fill="url(#gEl)" stroke="#a31a28" stroke-width="1.9"/>
<ellipse cx="1004.2" cy="670.4" rx="30.6" ry="11.4" fill="url(#gEl)" stroke="#a31a28" stroke-width="1.9"/>
<ellipse cx="1004.2" cy="647.6" rx="30.6" ry="12.9" fill="url(#gEl)" stroke="#a31a28" stroke-width="1.9"/>
<text x="984.1" y="657.2" font-size="21.5" font-weight="bold" font-style="normal" fill="#5a0c0c" text-anchor="start" textLength="39.6" lengthAdjust="spacingAndGlyphs" stroke="#5a0c0c" stroke-width="0.47" stroke-linejoin="round">TLR</text>
<path d="M1123.8,627 C1113,662 1104,668 1065.1,693.4" fill="none" stroke="#4472c4" stroke-width="7"/>
<line x1="1046.4" y1="674.7" x2="1078.7" y2="716.4" stroke="#4472c4" stroke-width="7"/>
<path d="M1171.3,632.2 C1172.2,636.5 1174.5,649.2 1176.7,658.1 C1178.9,667.0 1181.4,677.1 1184.3,685.5 C1187.2,693.9 1190.5,701.0 1194.2,708.4 C1197.9,715.8 1202.3,722.9 1206.4,729.8 C1210.5,736.7 1215.6,743.2 1218.6,749.6 C1221.6,756.0 1223.5,765.2 1224.5,768.3" fill="none" stroke="#4472c4" stroke-width="6.6"/>
<polyline points="1201.8,755.4 1224.5,768.3 1225,742" fill="none" stroke="#4472c4" stroke-width="6.6" stroke-linejoin="miter" stroke-linecap="round" stroke-miterlimit="10"/>
<line x1="1005.1" y1="869" x2="1005.1" y2="913" stroke="#4472c4" stroke-width="7.2"/>
<polyline points="992,891.1 1005.3,913.5 1018.6,891.1" fill="none" stroke="#4472c4" stroke-width="7.2" stroke-linejoin="miter" stroke-linecap="round" stroke-miterlimit="10"/>
<ellipse cx="1003.7" cy="969.9" rx="91.1" ry="44.4" fill="url(#gMy)" stroke="#000" stroke-width="2.7"/>
<text x="951.8" y="982.0" font-size="30.0" font-weight="bold" font-style="normal" fill="#5a0c0c" text-anchor="start" textLength="106.1" lengthAdjust="spacingAndGlyphs" stroke="#5a0c0c" stroke-width="0.66" stroke-linejoin="round">MyD88</text>
<path d="M999.0,1016.0 C998.6,1018.8 999.4,1027.8 996.6,1033.0 C993.8,1038.2 992.6,1042.7 982.0,1047.0 C971.4,1051.3 955.7,1055.8 932.7,1059.0 C909.7,1062.2 867.8,1063.8 844.0,1066.1 C820.2,1068.3 803.2,1069.7 790.0,1072.5 C776.8,1075.3 770.7,1078.4 765.0,1083.0 C759.3,1087.6 757.0,1093.0 756.0,1100.0 C755.0,1107.0 758.5,1120.8 759.0,1125.0" fill="none" stroke="#4472c4" stroke-width="7"/>
<polyline points="743,1108 761,1135 776,1100" fill="none" stroke="#4472c4" stroke-width="7"/>
<line x1="1196" y1="1120" x2="1245" y2="1063" stroke="#2e75b6" stroke-width="6.4"/>
<polygon points="1259.1,1048.3 1236,1059 1253.8,1071.4" fill="#2e75b6"/>
<text x="1133.3" y="904.6" font-size="32.3" font-weight="bold" font-style="normal" fill="#15a650" text-anchor="start" textLength="496.0" lengthAdjust="spacingAndGlyphs" stroke="#15a650" stroke-width="0.71" stroke-linejoin="round">Intestinal barrier function and</text>
<text x="1229.1" y="950.7" font-size="32.3" font-weight="bold" font-style="normal" fill="#15a650" text-anchor="start" textLength="261.6" lengthAdjust="spacingAndGlyphs" stroke="#15a650" stroke-width="0.71" stroke-linejoin="round">barrier integrity</text>
<path d="M1517.1,957.3 V928" fill="none" stroke="#c00000" stroke-width="5.4"/>
<path d="M1505.2,941.2 L1517.2,928.6 L1529.3,941.2" fill="none" stroke="#c00000" stroke-width="5" stroke-linejoin="miter"/>
<rect x="1280.3" y="976.8" width="325.9" height="96.2" rx="15" fill="#e7e6e6" stroke="#767171" stroke-width="7"/>
<text x="1374.5" y="1016.1" font-size="30.0" font-weight="bold" font-style="normal" fill="#000" text-anchor="start" textLength="138.3" lengthAdjust="spacingAndGlyphs" stroke="#000" stroke-width="0.66" stroke-linejoin="round">Intestinal</text>
<text x="1332.4" y="1057.9" font-size="30.0" font-weight="bold" font-style="normal" fill="#000" text-anchor="start" textLength="198.3" lengthAdjust="spacingAndGlyphs" stroke="#000" stroke-width="0.66" stroke-linejoin="round">inflammation</text>
<path d="M1545.4,1029.6 V1057" fill="none" stroke="#c00000" stroke-width="3.2"/>
<path d="M1539.3,1050.8 L1545.4,1057.5 L1551.5,1050.8" fill="none" stroke="#c00000" stroke-width="2.8" stroke-linejoin="miter"/>
</svg>
</body></html>
